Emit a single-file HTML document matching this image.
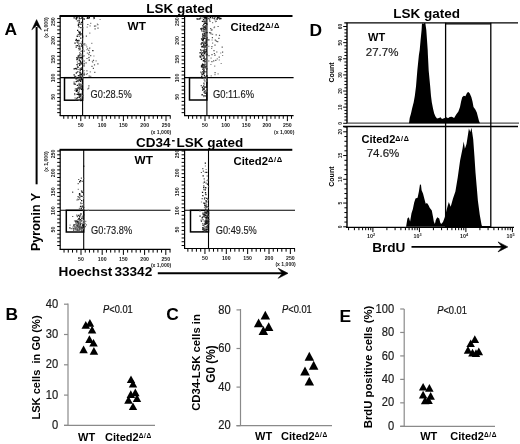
<!DOCTYPE html>
<html><head><meta charset="utf-8"><style>
html,body{margin:0;padding:0;background:#fff;width:520px;height:444px;overflow:hidden}
svg{display:block;font-family:"Liberation Sans", sans-serif;filter:grayscale(1)}
</style></head><body>
<svg width="520" height="444" viewBox="0 0 520 444">
<rect width="520" height="444" fill="#fff"/>
<text x="4.6" y="35.3" font-size="17.4" font-weight="bold" text-anchor="start" fill="#000">A</text>
<text x="5.4" y="319.7" font-size="17.4" font-weight="bold" text-anchor="start" fill="#000">B</text>
<text x="166.2" y="320.4" font-size="17.4" font-weight="bold" text-anchor="start" fill="#000">C</text>
<text x="309.6" y="36" font-size="17.4" font-weight="bold" text-anchor="start" fill="#000">D</text>
<text x="339.6" y="321.7" font-size="17.4" font-weight="bold" text-anchor="start" fill="#000">E</text>
<line x1="36.6" y1="184.3" x2="36.6" y2="27" stroke="#000" stroke-width="2"/>
<path d="M36.6 19.6 L41.4 29.8 L36.6 25.6 L31.8 29.8 Z" fill="#000" stroke="#000" stroke-width="0.5" stroke-linejoin="round"/>
<text x="40.3" y="251" font-size="12.5" font-weight="bold" text-anchor="start" fill="#000" transform="rotate(-90 40.3 251)">Pyronin Y</text>
<text x="58.6" y="275.8" font-size="13.6" font-weight="bold" text-anchor="start" fill="#000">Hoechst</text>
<text x="114.4" y="275.8" font-size="13.6" font-weight="bold" text-anchor="start" fill="#000">33342</text>
<line x1="157.8" y1="273.3" x2="284" y2="273.3" stroke="#000" stroke-width="1.9"/>
<path d="M288 273.3 L278.2 268.3 L282.4 273.3 L278.2 278.3 Z" fill="#000" stroke="#000" stroke-width="0.6" stroke-linejoin="round"/>
<text x="146.2" y="12.7" font-size="13.5" font-weight="bold" text-anchor="start" fill="#000">LSK gated</text>
<rect x="59.5" y="15" width="233" height="2" fill="#000"/>
<text x="136" y="147.1" font-size="13.5" font-weight="bold" text-anchor="start" fill="#000">CD34</text>
<rect x="172" y="140.1" width="2.7" height="1.4" fill="#000"/>
<text x="176.4" y="147" font-size="13.5" font-weight="bold" text-anchor="start" fill="#000">LSK gated</text>
<rect x="59.5" y="148.8" width="232.8" height="2" fill="#000"/>
<line x1="60.2" y1="16" x2="60.2" y2="116.1" stroke="#000" stroke-width="1.2"/>
<line x1="59.7" y1="115.6" x2="170.5" y2="115.6" stroke="#000" stroke-width="1.2"/>
<line x1="57.2" y1="112.64" x2="60.2" y2="112.64" stroke="#000" stroke-width="1"/>
<line x1="57.2" y1="108.88000000000001" x2="60.2" y2="108.88000000000001" stroke="#000" stroke-width="1"/>
<line x1="57.2" y1="105.12" x2="60.2" y2="105.12" stroke="#000" stroke-width="1"/>
<line x1="57.2" y1="101.36000000000001" x2="60.2" y2="101.36000000000001" stroke="#000" stroke-width="1"/>
<line x1="57.2" y1="97.60000000000001" x2="60.2" y2="97.60000000000001" stroke="#000" stroke-width="1"/>
<line x1="57.2" y1="93.84" x2="60.2" y2="93.84" stroke="#000" stroke-width="1"/>
<line x1="57.2" y1="90.08000000000001" x2="60.2" y2="90.08000000000001" stroke="#000" stroke-width="1"/>
<line x1="57.2" y1="86.32000000000001" x2="60.2" y2="86.32000000000001" stroke="#000" stroke-width="1"/>
<line x1="57.2" y1="82.56" x2="60.2" y2="82.56" stroke="#000" stroke-width="1"/>
<line x1="57.2" y1="78.80000000000001" x2="60.2" y2="78.80000000000001" stroke="#000" stroke-width="1"/>
<line x1="57.2" y1="75.04" x2="60.2" y2="75.04" stroke="#000" stroke-width="1"/>
<line x1="57.2" y1="71.28" x2="60.2" y2="71.28" stroke="#000" stroke-width="1"/>
<line x1="57.2" y1="67.52000000000001" x2="60.2" y2="67.52000000000001" stroke="#000" stroke-width="1"/>
<line x1="57.2" y1="63.760000000000005" x2="60.2" y2="63.760000000000005" stroke="#000" stroke-width="1"/>
<line x1="57.2" y1="60.00000000000001" x2="60.2" y2="60.00000000000001" stroke="#000" stroke-width="1"/>
<line x1="57.2" y1="56.24000000000001" x2="60.2" y2="56.24000000000001" stroke="#000" stroke-width="1"/>
<line x1="57.2" y1="52.480000000000004" x2="60.2" y2="52.480000000000004" stroke="#000" stroke-width="1"/>
<line x1="57.2" y1="48.72" x2="60.2" y2="48.72" stroke="#000" stroke-width="1"/>
<line x1="57.2" y1="44.96000000000001" x2="60.2" y2="44.96000000000001" stroke="#000" stroke-width="1"/>
<line x1="57.2" y1="41.2" x2="60.2" y2="41.2" stroke="#000" stroke-width="1"/>
<line x1="57.2" y1="37.44000000000001" x2="60.2" y2="37.44000000000001" stroke="#000" stroke-width="1"/>
<line x1="57.2" y1="33.68000000000001" x2="60.2" y2="33.68000000000001" stroke="#000" stroke-width="1"/>
<line x1="57.2" y1="29.92" x2="60.2" y2="29.92" stroke="#000" stroke-width="1"/>
<line x1="57.2" y1="26.16000000000001" x2="60.2" y2="26.16000000000001" stroke="#000" stroke-width="1"/>
<line x1="57.2" y1="22.400000000000006" x2="60.2" y2="22.400000000000006" stroke="#000" stroke-width="1"/>
<line x1="57.2" y1="18.64" x2="60.2" y2="18.64" stroke="#000" stroke-width="1"/>
<text x="53.0" y="96.80000000000001" font-size="5.2" font-weight="bold" text-anchor="middle" fill="#1a1a1a" transform="rotate(-90 53.0 96.80000000000001)" dominant-baseline="central">50</text>
<text x="53.0" y="78.00000000000001" font-size="5.2" font-weight="bold" text-anchor="middle" fill="#1a1a1a" transform="rotate(-90 53.0 78.00000000000001)" dominant-baseline="central">100</text>
<text x="53.0" y="59.20000000000001" font-size="5.2" font-weight="bold" text-anchor="middle" fill="#1a1a1a" transform="rotate(-90 53.0 59.20000000000001)" dominant-baseline="central">150</text>
<text x="53.0" y="40.400000000000006" font-size="5.2" font-weight="bold" text-anchor="middle" fill="#1a1a1a" transform="rotate(-90 53.0 40.400000000000006)" dominant-baseline="central">200</text>
<text x="53.0" y="21.600000000000005" font-size="5.2" font-weight="bold" text-anchor="middle" fill="#1a1a1a" transform="rotate(-90 53.0 21.600000000000005)" dominant-baseline="central">250</text>
<text x="46.0" y="27.5" font-size="5.1" font-weight="bold" text-anchor="middle" fill="#1a1a1a" transform="rotate(-90 46.0 27.5)" dominant-baseline="central">(x 1,000)</text>
<line x1="63.76" y1="115.6" x2="63.76" y2="118.8" stroke="#000" stroke-width="1"/>
<line x1="68.02" y1="115.6" x2="68.02" y2="118.8" stroke="#000" stroke-width="1"/>
<line x1="72.28" y1="115.6" x2="72.28" y2="118.8" stroke="#000" stroke-width="1"/>
<line x1="76.53999999999999" y1="115.6" x2="76.53999999999999" y2="118.8" stroke="#000" stroke-width="1"/>
<line x1="80.8" y1="115.6" x2="80.8" y2="121.1" stroke="#000" stroke-width="1"/>
<line x1="85.06" y1="115.6" x2="85.06" y2="118.8" stroke="#000" stroke-width="1"/>
<line x1="89.32" y1="115.6" x2="89.32" y2="118.8" stroke="#000" stroke-width="1"/>
<line x1="93.58" y1="115.6" x2="93.58" y2="118.8" stroke="#000" stroke-width="1"/>
<line x1="97.84" y1="115.6" x2="97.84" y2="118.8" stroke="#000" stroke-width="1"/>
<line x1="102.1" y1="115.6" x2="102.1" y2="121.1" stroke="#000" stroke-width="1"/>
<line x1="106.36" y1="115.6" x2="106.36" y2="118.8" stroke="#000" stroke-width="1"/>
<line x1="110.62" y1="115.6" x2="110.62" y2="118.8" stroke="#000" stroke-width="1"/>
<line x1="114.88" y1="115.6" x2="114.88" y2="118.8" stroke="#000" stroke-width="1"/>
<line x1="119.14" y1="115.6" x2="119.14" y2="118.8" stroke="#000" stroke-width="1"/>
<line x1="123.4" y1="115.6" x2="123.4" y2="121.1" stroke="#000" stroke-width="1"/>
<line x1="127.66" y1="115.6" x2="127.66" y2="118.8" stroke="#000" stroke-width="1"/>
<line x1="131.92000000000002" y1="115.6" x2="131.92000000000002" y2="118.8" stroke="#000" stroke-width="1"/>
<line x1="136.18" y1="115.6" x2="136.18" y2="118.8" stroke="#000" stroke-width="1"/>
<line x1="140.44" y1="115.6" x2="140.44" y2="118.8" stroke="#000" stroke-width="1"/>
<line x1="144.7" y1="115.6" x2="144.7" y2="121.1" stroke="#000" stroke-width="1"/>
<line x1="148.95999999999998" y1="115.6" x2="148.95999999999998" y2="118.8" stroke="#000" stroke-width="1"/>
<line x1="153.22" y1="115.6" x2="153.22" y2="118.8" stroke="#000" stroke-width="1"/>
<line x1="157.48000000000002" y1="115.6" x2="157.48000000000002" y2="118.8" stroke="#000" stroke-width="1"/>
<line x1="161.74" y1="115.6" x2="161.74" y2="118.8" stroke="#000" stroke-width="1"/>
<line x1="166.0" y1="115.6" x2="166.0" y2="121.1" stroke="#000" stroke-width="1"/>
<line x1="170.26" y1="115.6" x2="170.26" y2="118.8" stroke="#000" stroke-width="1"/>
<text x="80.8" y="127.1" font-size="5.2" font-weight="bold" text-anchor="middle" fill="#1a1a1a">50</text>
<text x="102.1" y="127.1" font-size="5.2" font-weight="bold" text-anchor="middle" fill="#1a1a1a">100</text>
<text x="123.4" y="127.1" font-size="5.2" font-weight="bold" text-anchor="middle" fill="#1a1a1a">150</text>
<text x="144.7" y="127.1" font-size="5.2" font-weight="bold" text-anchor="middle" fill="#1a1a1a">200</text>
<text x="166.0" y="127.1" font-size="5.2" font-weight="bold" text-anchor="middle" fill="#1a1a1a">250</text>
<text x="171.3" y="133.5" font-size="5.1" font-weight="bold" text-anchor="end" fill="#1a1a1a">(x 1,000)</text>
<line x1="60.2" y1="77.6" x2="170.5" y2="77.6" stroke="#000" stroke-width="1.1"/>
<line x1="82.6" y1="16" x2="82.6" y2="115.6" stroke="#000" stroke-width="1.1"/>
<rect x="64.5" y="77.7" width="18.099999999999994" height="22.5" fill="none" stroke="#000" stroke-width="1.5"/>
<path d="M78.8 94.5h1.3v1.3h-1.3zM81.0 43.4h1.3v1.3h-1.3zM75.4 67.8h1.3v1.3h-1.3zM77.9 87.3h1.3v1.3h-1.3zM79.6 79.5h1.3v1.3h-1.3zM74.8 67.9h1.3v1.3h-1.3zM79.0 64.6h1.3v1.3h-1.3zM79.6 79.1h1.3v1.3h-1.3zM79.0 57.3h1.3v1.3h-1.3zM78.8 59.6h1.3v1.3h-1.3zM78.5 62.9h1.3v1.3h-1.3zM79.2 74.4h1.3v1.3h-1.3zM77.0 29.8h1.3v1.3h-1.3zM78.0 92.3h1.3v1.3h-1.3zM77.6 93.7h1.3v1.3h-1.3zM81.4 93.4h1.3v1.3h-1.3zM76.3 59.0h1.3v1.3h-1.3zM82.0 36.5h1.3v1.3h-1.3zM81.7 45.4h1.3v1.3h-1.3zM79.0 76.7h1.3v1.3h-1.3zM77.2 66.6h1.3v1.3h-1.3zM79.0 32.2h1.3v1.3h-1.3zM80.3 23.5h1.3v1.3h-1.3zM80.7 85.4h1.3v1.3h-1.3zM79.5 34.0h1.3v1.3h-1.3zM78.4 19.7h1.3v1.3h-1.3zM79.7 69.2h1.3v1.3h-1.3zM75.5 76.8h1.3v1.3h-1.3zM82.0 89.2h1.3v1.3h-1.3zM81.5 77.7h1.3v1.3h-1.3zM82.0 35.6h1.3v1.3h-1.3zM81.9 95.3h1.3v1.3h-1.3zM74.4 42.5h1.3v1.3h-1.3zM79.1 54.7h1.3v1.3h-1.3zM79.7 76.2h1.3v1.3h-1.3zM79.8 93.6h1.3v1.3h-1.3zM77.4 57.1h1.3v1.3h-1.3zM75.2 99.5h1.3v1.3h-1.3zM76.8 58.1h1.3v1.3h-1.3zM77.2 40.2h1.3v1.3h-1.3zM73.5 83.3h1.3v1.3h-1.3zM79.8 61.6h1.3v1.3h-1.3zM73.5 74.3h1.3v1.3h-1.3zM80.1 99.1h1.3v1.3h-1.3zM82.0 94.8h1.3v1.3h-1.3zM75.4 78.1h1.3v1.3h-1.3zM78.7 59.9h1.3v1.3h-1.3zM77.7 55.2h1.3v1.3h-1.3zM79.9 72.5h1.3v1.3h-1.3zM73.5 68.2h1.3v1.3h-1.3zM79.9 95.0h1.3v1.3h-1.3zM77.2 42.2h1.3v1.3h-1.3zM78.5 94.5h1.3v1.3h-1.3zM78.3 84.3h1.3v1.3h-1.3zM78.8 21.6h1.3v1.3h-1.3zM82.0 55.6h1.3v1.3h-1.3zM78.5 79.3h1.3v1.3h-1.3zM80.7 88.7h1.3v1.3h-1.3zM80.9 21.8h1.3v1.3h-1.3zM81.4 56.7h1.3v1.3h-1.3zM77.6 56.5h1.3v1.3h-1.3zM76.0 90.1h1.3v1.3h-1.3zM76.5 89.0h1.3v1.3h-1.3zM77.2 80.2h1.3v1.3h-1.3zM75.3 39.7h1.3v1.3h-1.3zM81.4 58.5h1.3v1.3h-1.3zM81.6 41.3h1.3v1.3h-1.3zM76.8 40.1h1.3v1.3h-1.3zM76.6 89.7h1.3v1.3h-1.3zM79.3 71.6h1.3v1.3h-1.3zM76.7 84.7h1.3v1.3h-1.3zM79.5 72.4h1.3v1.3h-1.3zM81.9 27.2h1.3v1.3h-1.3zM80.1 37.4h1.3v1.3h-1.3zM77.8 75.0h1.3v1.3h-1.3zM76.1 78.1h1.3v1.3h-1.3zM81.0 78.9h1.3v1.3h-1.3zM79.2 87.2h1.3v1.3h-1.3zM78.3 26.3h1.3v1.3h-1.3zM76.9 44.9h1.3v1.3h-1.3zM79.9 61.3h1.3v1.3h-1.3zM81.1 73.6h1.3v1.3h-1.3zM78.6 94.0h1.3v1.3h-1.3zM77.7 79.7h1.3v1.3h-1.3zM82.0 43.4h1.3v1.3h-1.3zM75.6 88.2h1.3v1.3h-1.3zM81.9 97.1h1.3v1.3h-1.3zM81.1 45.3h1.3v1.3h-1.3zM80.8 68.8h1.3v1.3h-1.3zM81.3 67.2h1.3v1.3h-1.3zM79.5 31.5h1.3v1.3h-1.3zM76.8 90.1h1.3v1.3h-1.3zM76.1 77.2h1.3v1.3h-1.3zM81.8 29.3h1.3v1.3h-1.3zM78.3 47.8h1.3v1.3h-1.3zM75.8 38.7h1.3v1.3h-1.3zM79.6 95.9h1.3v1.3h-1.3zM76.8 97.1h1.3v1.3h-1.3zM80.2 99.9h1.3v1.3h-1.3zM80.2 63.3h1.3v1.3h-1.3zM82.0 46.4h1.3v1.3h-1.3zM79.8 74.1h1.3v1.3h-1.3zM81.8 29.2h1.3v1.3h-1.3zM80.5 76.5h1.3v1.3h-1.3zM79.1 32.7h1.3v1.3h-1.3zM79.9 80.3h1.3v1.3h-1.3zM76.5 93.7h1.3v1.3h-1.3zM79.9 60.4h1.3v1.3h-1.3zM76.4 64.0h1.3v1.3h-1.3zM81.4 74.5h1.3v1.3h-1.3zM75.6 81.0h1.3v1.3h-1.3zM82.0 65.0h1.3v1.3h-1.3zM76.0 80.7h1.3v1.3h-1.3zM80.0 80.6h1.3v1.3h-1.3zM81.2 67.9h1.3v1.3h-1.3zM82.0 48.4h1.3v1.3h-1.3zM80.5 33.2h1.3v1.3h-1.3zM74.4 83.5h1.3v1.3h-1.3zM80.2 57.1h1.3v1.3h-1.3zM80.8 77.7h1.3v1.3h-1.3zM76.2 68.5h1.3v1.3h-1.3zM80.3 87.5h1.3v1.3h-1.3zM75.9 77.5h1.3v1.3h-1.3zM79.3 84.4h1.3v1.3h-1.3zM75.7 90.8h1.3v1.3h-1.3zM77.7 24.6h1.3v1.3h-1.3zM77.9 23.6h1.3v1.3h-1.3zM80.2 27.0h1.3v1.3h-1.3zM78.4 93.6h1.3v1.3h-1.3zM79.0 54.5h1.3v1.3h-1.3zM78.2 86.4h1.3v1.3h-1.3zM78.1 31.2h1.3v1.3h-1.3zM77.3 87.6h1.3v1.3h-1.3zM79.6 69.5h1.3v1.3h-1.3zM79.0 45.4h1.3v1.3h-1.3zM76.6 35.6h1.3v1.3h-1.3zM78.6 96.6h1.3v1.3h-1.3zM79.3 95.2h1.3v1.3h-1.3zM82.0 70.9h1.3v1.3h-1.3zM78.2 39.8h1.3v1.3h-1.3zM78.4 80.0h1.3v1.3h-1.3zM82.0 69.8h1.3v1.3h-1.3zM74.4 75.7h1.3v1.3h-1.3zM77.3 99.7h1.3v1.3h-1.3zM80.8 62.5h1.3v1.3h-1.3zM83.5 74.2h1.3v1.3h-1.3zM92.2 49.9h1.3v1.3h-1.3zM88.6 59.5h1.3v1.3h-1.3zM79.3 17.9h1.3v1.3h-1.3zM86.9 16.9h1.3v1.3h-1.3zM81.8 17.3h1.3v1.3h-1.3zM75.6 18.3h1.3v1.3h-1.3zM93.6 17.8h1.3v1.3h-1.3zM83.6 18.4h1.3v1.3h-1.3zM86.6 17.7h1.3v1.3h-1.3zM88.2 17.6h1.3v1.3h-1.3zM75.5 17.6h1.3v1.3h-1.3zM78.6 17.3h1.3v1.3h-1.3zM76.4 17.1h1.3v1.3h-1.3zM76.0 17.3h1.3v1.3h-1.3zM83.3 18.2h1.3v1.3h-1.3zM73.5 17.2h1.3v1.3h-1.3zM81.0 17.5h1.3v1.3h-1.3zM75.7 18.5h1.3v1.3h-1.3zM88.7 16.8h1.3v1.3h-1.3zM76.3 16.9h1.3v1.3h-1.3zM93.4 16.9h1.3v1.3h-1.3z" fill="#111"/>
<path d="M79.1 98.8h1.2v1.2h-1.2zM77.7 87.6h1.2v1.2h-1.2zM78.4 55.2h1.2v1.2h-1.2zM80.3 95.2h1.2v1.2h-1.2zM74.8 83.9h1.2v1.2h-1.2zM80.0 83.6h1.2v1.2h-1.2zM80.2 98.1h1.2v1.2h-1.2zM80.5 50.4h1.2v1.2h-1.2zM80.1 53.2h1.2v1.2h-1.2zM80.4 97.6h1.2v1.2h-1.2zM80.7 67.7h1.2v1.2h-1.2zM78.2 87.0h1.2v1.2h-1.2zM74.4 89.9h1.2v1.2h-1.2zM77.5 34.0h1.2v1.2h-1.2zM80.3 34.4h1.2v1.2h-1.2zM81.0 45.9h1.2v1.2h-1.2zM78.6 49.2h1.2v1.2h-1.2zM76.4 41.5h1.2v1.2h-1.2zM79.6 67.8h1.2v1.2h-1.2zM78.7 59.3h1.2v1.2h-1.2zM76.4 57.5h1.2v1.2h-1.2zM76.7 71.6h1.2v1.2h-1.2zM77.5 92.1h1.2v1.2h-1.2zM80.0 98.4h1.2v1.2h-1.2zM79.5 86.3h1.2v1.2h-1.2zM82.0 38.2h1.2v1.2h-1.2zM82.0 76.6h1.2v1.2h-1.2zM79.5 47.8h1.2v1.2h-1.2zM80.4 61.7h1.2v1.2h-1.2zM80.5 50.8h1.2v1.2h-1.2zM81.4 84.0h1.2v1.2h-1.2zM75.6 46.6h1.2v1.2h-1.2zM82.0 77.1h1.2v1.2h-1.2zM78.2 45.5h1.2v1.2h-1.2zM81.5 54.2h1.2v1.2h-1.2zM78.1 79.9h1.2v1.2h-1.2zM82.0 77.5h1.2v1.2h-1.2zM75.3 99.1h1.2v1.2h-1.2zM79.8 79.2h1.2v1.2h-1.2zM78.3 40.3h1.2v1.2h-1.2zM76.0 56.9h1.2v1.2h-1.2zM75.7 72.8h1.2v1.2h-1.2zM79.4 74.5h1.2v1.2h-1.2zM76.9 57.0h1.2v1.2h-1.2zM75.7 45.0h1.2v1.2h-1.2zM77.5 96.8h1.2v1.2h-1.2zM80.3 63.5h1.2v1.2h-1.2zM78.6 90.5h1.2v1.2h-1.2zM74.1 93.1h1.2v1.2h-1.2zM74.7 88.4h1.2v1.2h-1.2zM73.5 81.6h1.2v1.2h-1.2zM80.4 87.0h1.2v1.2h-1.2zM75.6 46.7h1.2v1.2h-1.2zM75.9 97.9h1.2v1.2h-1.2zM78.8 54.5h1.2v1.2h-1.2zM78.5 82.8h1.2v1.2h-1.2zM75.3 77.2h1.2v1.2h-1.2zM78.3 56.5h1.2v1.2h-1.2zM76.8 61.4h1.2v1.2h-1.2zM77.6 80.5h1.2v1.2h-1.2zM79.2 46.4h1.2v1.2h-1.2zM79.1 52.2h1.2v1.2h-1.2zM79.0 84.1h1.2v1.2h-1.2zM74.2 94.1h1.2v1.2h-1.2zM78.1 43.6h1.2v1.2h-1.2zM78.7 88.8h1.2v1.2h-1.2zM77.5 62.9h1.2v1.2h-1.2zM78.4 21.5h1.2v1.2h-1.2zM79.1 23.5h1.2v1.2h-1.2zM82.0 95.1h1.2v1.2h-1.2zM78.4 99.9h1.2v1.2h-1.2zM78.9 87.9h1.2v1.2h-1.2zM76.8 20.2h1.2v1.2h-1.2zM82.0 23.3h1.2v1.2h-1.2zM75.7 72.1h1.2v1.2h-1.2zM76.9 65.5h1.2v1.2h-1.2zM78.7 99.7h1.2v1.2h-1.2zM77.5 66.8h1.2v1.2h-1.2zM82.0 59.2h1.2v1.2h-1.2zM74.5 97.4h1.2v1.2h-1.2zM78.9 95.2h1.2v1.2h-1.2zM77.3 71.0h1.2v1.2h-1.2zM82.0 74.3h1.2v1.2h-1.2zM80.7 85.8h1.2v1.2h-1.2zM79.6 42.7h1.2v1.2h-1.2zM80.4 55.4h1.2v1.2h-1.2zM78.7 33.5h1.2v1.2h-1.2zM82.0 43.8h1.2v1.2h-1.2zM79.4 48.7h1.2v1.2h-1.2zM78.8 75.1h1.2v1.2h-1.2zM82.0 48.7h1.2v1.2h-1.2zM77.7 92.9h1.2v1.2h-1.2zM82.0 27.3h1.2v1.2h-1.2zM78.3 68.9h1.2v1.2h-1.2zM78.6 35.8h1.2v1.2h-1.2zM85.8 35.6h1.2v1.2h-1.2zM83.5 55.3h1.2v1.2h-1.2zM83.5 73.2h1.2v1.2h-1.2zM83.5 65.3h1.2v1.2h-1.2zM97.3 63.2h1.2v1.2h-1.2zM91.4 65.8h1.2v1.2h-1.2zM83.5 50.5h1.2v1.2h-1.2zM88.6 75.6h1.2v1.2h-1.2zM88.2 57.0h1.2v1.2h-1.2zM88.9 51.8h1.2v1.2h-1.2zM86.4 57.9h1.2v1.2h-1.2zM83.5 73.6h1.2v1.2h-1.2zM88.2 49.7h1.2v1.2h-1.2zM92.8 67.7h1.2v1.2h-1.2zM83.6 62.9h1.2v1.2h-1.2zM83.5 62.9h1.2v1.2h-1.2zM94.2 71.7h1.2v1.2h-1.2zM85.5 62.3h1.2v1.2h-1.2zM90.1 55.0h1.2v1.2h-1.2zM83.5 44.3h1.2v1.2h-1.2zM93.9 64.2h1.2v1.2h-1.2zM83.5 72.6h1.2v1.2h-1.2zM89.1 47.6h1.2v1.2h-1.2zM88.2 53.6h1.2v1.2h-1.2zM88.2 56.9h1.2v1.2h-1.2zM92.9 59.8h1.2v1.2h-1.2zM95.1 25.4h1.2v1.2h-1.2zM87.2 23.9h1.2v1.2h-1.2zM94.5 28.2h1.2v1.2h-1.2zM97.4 27.5h1.2v1.2h-1.2zM97.2 24.1h1.2v1.2h-1.2zM93.9 25.6h1.2v1.2h-1.2zM87.7 17.4h1.2v1.2h-1.2zM81.3 17.6h1.2v1.2h-1.2zM93.6 17.5h1.2v1.2h-1.2zM87.2 88.4h1.2v1.2h-1.2zM88.3 85.3h1.2v1.2h-1.2zM88.1 87.6h1.2v1.2h-1.2z" fill="#555"/>
<path d="M84.2 43.1h1.2v1.2h-1.2zM85.4 44.5h1.2v1.2h-1.2zM83.5 64.0h1.2v1.2h-1.2zM83.5 60.0h1.2v1.2h-1.2zM86.8 73.0h1.2v1.2h-1.2zM86.2 46.3h1.2v1.2h-1.2zM88.6 56.8h1.2v1.2h-1.2zM91.2 42.8h1.2v1.2h-1.2zM83.5 65.4h1.2v1.2h-1.2zM85.8 73.7h1.2v1.2h-1.2zM83.5 70.1h1.2v1.2h-1.2zM86.8 52.5h1.2v1.2h-1.2zM86.3 70.3h1.2v1.2h-1.2zM89.2 32.6h1.2v1.2h-1.2zM93.3 55.4h1.2v1.2h-1.2zM87.0 48.0h1.2v1.2h-1.2zM95.5 60.2h1.2v1.2h-1.2zM91.8 60.7h1.2v1.2h-1.2zM86.4 49.1h1.2v1.2h-1.2zM83.5 43.3h1.2v1.2h-1.2zM86.3 69.9h1.2v1.2h-1.2zM92.1 61.6h1.2v1.2h-1.2zM90.1 75.8h1.2v1.2h-1.2zM83.5 61.0h1.2v1.2h-1.2zM88.3 54.1h1.2v1.2h-1.2zM89.7 71.2h1.2v1.2h-1.2zM99.5 18.9h1.2v1.2h-1.2zM90.1 22.8h1.2v1.2h-1.2zM96.8 23.4h1.2v1.2h-1.2zM89.5 25.3h1.2v1.2h-1.2zM86.6 26.5h1.2v1.2h-1.2zM93.0 18.0h1.2v1.2h-1.2z" fill="#888"/>
<text x="127.6" y="30.3" font-size="11.8" font-weight="bold" text-anchor="start" fill="#000">WT</text>
<text x="90.6" y="98" font-size="10.6" text-anchor="start" fill="#1a1a1a" stroke="#1a1a1a" stroke-width="0.15" textLength="41" lengthAdjust="spacingAndGlyphs">G0:28.5%</text>
<line x1="184.6" y1="16" x2="184.6" y2="116.1" stroke="#000" stroke-width="1.2"/>
<line x1="184.1" y1="115.6" x2="293.6" y2="115.6" stroke="#000" stroke-width="1.2"/>
<line x1="181.6" y1="112.64" x2="184.6" y2="112.64" stroke="#000" stroke-width="1"/>
<line x1="181.6" y1="108.88000000000001" x2="184.6" y2="108.88000000000001" stroke="#000" stroke-width="1"/>
<line x1="181.6" y1="105.12" x2="184.6" y2="105.12" stroke="#000" stroke-width="1"/>
<line x1="181.6" y1="101.36000000000001" x2="184.6" y2="101.36000000000001" stroke="#000" stroke-width="1"/>
<line x1="181.6" y1="97.60000000000001" x2="184.6" y2="97.60000000000001" stroke="#000" stroke-width="1"/>
<line x1="181.6" y1="93.84" x2="184.6" y2="93.84" stroke="#000" stroke-width="1"/>
<line x1="181.6" y1="90.08000000000001" x2="184.6" y2="90.08000000000001" stroke="#000" stroke-width="1"/>
<line x1="181.6" y1="86.32000000000001" x2="184.6" y2="86.32000000000001" stroke="#000" stroke-width="1"/>
<line x1="181.6" y1="82.56" x2="184.6" y2="82.56" stroke="#000" stroke-width="1"/>
<line x1="181.6" y1="78.80000000000001" x2="184.6" y2="78.80000000000001" stroke="#000" stroke-width="1"/>
<line x1="181.6" y1="75.04" x2="184.6" y2="75.04" stroke="#000" stroke-width="1"/>
<line x1="181.6" y1="71.28" x2="184.6" y2="71.28" stroke="#000" stroke-width="1"/>
<line x1="181.6" y1="67.52000000000001" x2="184.6" y2="67.52000000000001" stroke="#000" stroke-width="1"/>
<line x1="181.6" y1="63.760000000000005" x2="184.6" y2="63.760000000000005" stroke="#000" stroke-width="1"/>
<line x1="181.6" y1="60.00000000000001" x2="184.6" y2="60.00000000000001" stroke="#000" stroke-width="1"/>
<line x1="181.6" y1="56.24000000000001" x2="184.6" y2="56.24000000000001" stroke="#000" stroke-width="1"/>
<line x1="181.6" y1="52.480000000000004" x2="184.6" y2="52.480000000000004" stroke="#000" stroke-width="1"/>
<line x1="181.6" y1="48.72" x2="184.6" y2="48.72" stroke="#000" stroke-width="1"/>
<line x1="181.6" y1="44.96000000000001" x2="184.6" y2="44.96000000000001" stroke="#000" stroke-width="1"/>
<line x1="181.6" y1="41.2" x2="184.6" y2="41.2" stroke="#000" stroke-width="1"/>
<line x1="181.6" y1="37.44000000000001" x2="184.6" y2="37.44000000000001" stroke="#000" stroke-width="1"/>
<line x1="181.6" y1="33.68000000000001" x2="184.6" y2="33.68000000000001" stroke="#000" stroke-width="1"/>
<line x1="181.6" y1="29.92" x2="184.6" y2="29.92" stroke="#000" stroke-width="1"/>
<line x1="181.6" y1="26.16000000000001" x2="184.6" y2="26.16000000000001" stroke="#000" stroke-width="1"/>
<line x1="181.6" y1="22.400000000000006" x2="184.6" y2="22.400000000000006" stroke="#000" stroke-width="1"/>
<line x1="181.6" y1="18.64" x2="184.6" y2="18.64" stroke="#000" stroke-width="1"/>
<text x="177.4" y="96.80000000000001" font-size="5.2" font-weight="bold" text-anchor="middle" fill="#1a1a1a" transform="rotate(-90 177.4 96.80000000000001)" dominant-baseline="central">50</text>
<text x="177.4" y="78.00000000000001" font-size="5.2" font-weight="bold" text-anchor="middle" fill="#1a1a1a" transform="rotate(-90 177.4 78.00000000000001)" dominant-baseline="central">100</text>
<text x="177.4" y="59.20000000000001" font-size="5.2" font-weight="bold" text-anchor="middle" fill="#1a1a1a" transform="rotate(-90 177.4 59.20000000000001)" dominant-baseline="central">150</text>
<text x="177.4" y="40.400000000000006" font-size="5.2" font-weight="bold" text-anchor="middle" fill="#1a1a1a" transform="rotate(-90 177.4 40.400000000000006)" dominant-baseline="central">200</text>
<text x="177.4" y="21.600000000000005" font-size="5.2" font-weight="bold" text-anchor="middle" fill="#1a1a1a" transform="rotate(-90 177.4 21.600000000000005)" dominant-baseline="central">250</text>
<line x1="188.52" y1="115.6" x2="188.52" y2="118.8" stroke="#000" stroke-width="1"/>
<line x1="192.64000000000001" y1="115.6" x2="192.64000000000001" y2="118.8" stroke="#000" stroke-width="1"/>
<line x1="196.76" y1="115.6" x2="196.76" y2="118.8" stroke="#000" stroke-width="1"/>
<line x1="200.88" y1="115.6" x2="200.88" y2="118.8" stroke="#000" stroke-width="1"/>
<line x1="205.0" y1="115.6" x2="205.0" y2="121.1" stroke="#000" stroke-width="1"/>
<line x1="209.12" y1="115.6" x2="209.12" y2="118.8" stroke="#000" stroke-width="1"/>
<line x1="213.24" y1="115.6" x2="213.24" y2="118.8" stroke="#000" stroke-width="1"/>
<line x1="217.36" y1="115.6" x2="217.36" y2="118.8" stroke="#000" stroke-width="1"/>
<line x1="221.48000000000002" y1="115.6" x2="221.48000000000002" y2="118.8" stroke="#000" stroke-width="1"/>
<line x1="225.6" y1="115.6" x2="225.6" y2="121.1" stroke="#000" stroke-width="1"/>
<line x1="229.72" y1="115.6" x2="229.72" y2="118.8" stroke="#000" stroke-width="1"/>
<line x1="233.84" y1="115.6" x2="233.84" y2="118.8" stroke="#000" stroke-width="1"/>
<line x1="237.96" y1="115.6" x2="237.96" y2="118.8" stroke="#000" stroke-width="1"/>
<line x1="242.08" y1="115.6" x2="242.08" y2="118.8" stroke="#000" stroke-width="1"/>
<line x1="246.2" y1="115.6" x2="246.2" y2="121.1" stroke="#000" stroke-width="1"/>
<line x1="250.32" y1="115.6" x2="250.32" y2="118.8" stroke="#000" stroke-width="1"/>
<line x1="254.44" y1="115.6" x2="254.44" y2="118.8" stroke="#000" stroke-width="1"/>
<line x1="258.56" y1="115.6" x2="258.56" y2="118.8" stroke="#000" stroke-width="1"/>
<line x1="262.68" y1="115.6" x2="262.68" y2="118.8" stroke="#000" stroke-width="1"/>
<line x1="266.8" y1="115.6" x2="266.8" y2="121.1" stroke="#000" stroke-width="1"/>
<line x1="270.92" y1="115.6" x2="270.92" y2="118.8" stroke="#000" stroke-width="1"/>
<line x1="275.04" y1="115.6" x2="275.04" y2="118.8" stroke="#000" stroke-width="1"/>
<line x1="279.15999999999997" y1="115.6" x2="279.15999999999997" y2="118.8" stroke="#000" stroke-width="1"/>
<line x1="283.28" y1="115.6" x2="283.28" y2="118.8" stroke="#000" stroke-width="1"/>
<line x1="287.4" y1="115.6" x2="287.4" y2="121.1" stroke="#000" stroke-width="1"/>
<line x1="291.52" y1="115.6" x2="291.52" y2="118.8" stroke="#000" stroke-width="1"/>
<text x="205.0" y="127.1" font-size="5.2" font-weight="bold" text-anchor="middle" fill="#1a1a1a">50</text>
<text x="225.6" y="127.1" font-size="5.2" font-weight="bold" text-anchor="middle" fill="#1a1a1a">100</text>
<text x="246.2" y="127.1" font-size="5.2" font-weight="bold" text-anchor="middle" fill="#1a1a1a">150</text>
<text x="266.8" y="127.1" font-size="5.2" font-weight="bold" text-anchor="middle" fill="#1a1a1a">200</text>
<text x="287.4" y="127.1" font-size="5.2" font-weight="bold" text-anchor="middle" fill="#1a1a1a">250</text>
<text x="294.40000000000003" y="133.5" font-size="5.1" font-weight="bold" text-anchor="end" fill="#1a1a1a">(x 1,000)</text>
<line x1="184.6" y1="77.6" x2="293.6" y2="77.6" stroke="#000" stroke-width="1.1"/>
<line x1="206.9" y1="16" x2="206.9" y2="115.6" stroke="#000" stroke-width="1.1"/>
<rect x="189.5" y="77.7" width="17.400000000000006" height="22.299999999999997" fill="none" stroke="#000" stroke-width="1.5"/>
<path d="M201.3 27.8h1.3v1.3h-1.3zM206.0 77.3h1.3v1.3h-1.3zM202.6 40.2h1.3v1.3h-1.3zM202.4 46.1h1.3v1.3h-1.3zM203.1 44.0h1.3v1.3h-1.3zM204.7 28.5h1.3v1.3h-1.3zM206.3 23.4h1.3v1.3h-1.3zM205.7 22.9h1.3v1.3h-1.3zM205.3 42.3h1.3v1.3h-1.3zM205.0 42.9h1.3v1.3h-1.3zM200.1 28.3h1.3v1.3h-1.3zM204.2 59.3h1.3v1.3h-1.3zM205.3 65.8h1.3v1.3h-1.3zM203.3 64.0h1.3v1.3h-1.3zM203.7 20.8h1.3v1.3h-1.3zM203.8 37.8h1.3v1.3h-1.3zM203.9 48.4h1.3v1.3h-1.3zM200.9 66.2h1.3v1.3h-1.3zM204.0 58.3h1.3v1.3h-1.3zM201.3 38.6h1.3v1.3h-1.3zM202.9 19.0h1.3v1.3h-1.3zM202.4 27.9h1.3v1.3h-1.3zM204.0 34.3h1.3v1.3h-1.3zM203.8 63.9h1.3v1.3h-1.3zM205.2 52.2h1.3v1.3h-1.3zM201.8 20.8h1.3v1.3h-1.3zM205.7 70.9h1.3v1.3h-1.3zM203.1 70.0h1.3v1.3h-1.3zM205.2 22.4h1.3v1.3h-1.3zM203.3 28.6h1.3v1.3h-1.3zM204.5 46.0h1.3v1.3h-1.3zM202.9 71.2h1.3v1.3h-1.3zM206.3 75.1h1.3v1.3h-1.3zM203.2 44.1h1.3v1.3h-1.3zM200.0 49.3h1.3v1.3h-1.3zM202.9 45.2h1.3v1.3h-1.3zM204.6 28.5h1.3v1.3h-1.3zM203.2 67.1h1.3v1.3h-1.3zM200.9 58.5h1.3v1.3h-1.3zM206.2 68.2h1.3v1.3h-1.3zM204.1 35.8h1.3v1.3h-1.3zM202.0 52.3h1.3v1.3h-1.3zM202.2 55.1h1.3v1.3h-1.3zM205.1 25.2h1.3v1.3h-1.3zM202.5 35.3h1.3v1.3h-1.3zM202.8 38.0h1.3v1.3h-1.3zM205.3 66.7h1.3v1.3h-1.3zM202.8 38.7h1.3v1.3h-1.3zM202.0 63.6h1.3v1.3h-1.3zM203.1 23.9h1.3v1.3h-1.3zM204.4 42.7h1.3v1.3h-1.3zM202.5 49.7h1.3v1.3h-1.3zM200.9 65.3h1.3v1.3h-1.3zM205.8 58.7h1.3v1.3h-1.3zM201.5 45.8h1.3v1.3h-1.3zM201.4 42.0h1.3v1.3h-1.3zM203.5 69.2h1.3v1.3h-1.3zM205.2 28.1h1.3v1.3h-1.3zM202.4 37.1h1.3v1.3h-1.3zM203.9 60.7h1.3v1.3h-1.3zM205.4 42.0h1.3v1.3h-1.3zM204.3 58.2h1.3v1.3h-1.3zM206.3 54.1h1.3v1.3h-1.3zM204.8 32.3h1.3v1.3h-1.3zM203.9 59.5h1.3v1.3h-1.3zM205.4 41.0h1.3v1.3h-1.3zM203.2 73.1h1.3v1.3h-1.3zM203.6 32.7h1.3v1.3h-1.3zM201.4 64.6h1.3v1.3h-1.3zM206.3 39.2h1.3v1.3h-1.3zM199.7 56.5h1.3v1.3h-1.3zM203.7 65.0h1.3v1.3h-1.3zM206.3 53.8h1.3v1.3h-1.3zM205.6 49.0h1.3v1.3h-1.3zM202.7 35.2h1.3v1.3h-1.3zM202.7 60.1h1.3v1.3h-1.3zM205.4 40.2h1.3v1.3h-1.3zM203.0 37.7h1.3v1.3h-1.3zM200.9 54.1h1.3v1.3h-1.3zM199.5 55.6h1.3v1.3h-1.3zM205.5 20.2h1.3v1.3h-1.3zM204.2 37.5h1.3v1.3h-1.3zM202.2 33.9h1.3v1.3h-1.3zM202.6 42.5h1.3v1.3h-1.3zM206.3 37.2h1.3v1.3h-1.3zM201.3 45.8h1.3v1.3h-1.3zM201.0 29.2h1.3v1.3h-1.3zM205.8 50.6h1.3v1.3h-1.3zM202.4 71.0h1.3v1.3h-1.3zM199.5 52.1h1.3v1.3h-1.3zM203.7 52.6h1.3v1.3h-1.3zM204.2 26.0h1.3v1.3h-1.3zM204.2 26.8h1.3v1.3h-1.3zM200.8 58.8h1.3v1.3h-1.3zM206.3 32.0h1.3v1.3h-1.3zM203.8 51.2h1.3v1.3h-1.3zM201.2 46.1h1.3v1.3h-1.3zM202.9 73.0h1.3v1.3h-1.3zM201.8 39.8h1.3v1.3h-1.3zM204.4 37.8h1.3v1.3h-1.3zM204.5 60.9h1.3v1.3h-1.3zM201.0 52.4h1.3v1.3h-1.3zM204.3 51.0h1.3v1.3h-1.3zM203.8 75.0h1.3v1.3h-1.3zM205.5 41.4h1.3v1.3h-1.3zM205.1 21.6h1.3v1.3h-1.3zM204.5 46.4h1.3v1.3h-1.3zM203.9 71.2h1.3v1.3h-1.3zM203.0 71.9h1.3v1.3h-1.3zM202.8 45.8h1.3v1.3h-1.3zM204.3 45.5h1.3v1.3h-1.3zM203.9 66.5h1.3v1.3h-1.3zM202.3 68.6h1.3v1.3h-1.3zM203.5 46.4h1.3v1.3h-1.3zM203.6 22.5h1.3v1.3h-1.3zM204.2 34.6h1.3v1.3h-1.3zM204.7 26.6h1.3v1.3h-1.3zM205.6 38.8h1.3v1.3h-1.3zM206.3 44.3h1.3v1.3h-1.3zM200.8 43.3h1.3v1.3h-1.3zM206.3 75.8h1.3v1.3h-1.3zM201.3 74.3h1.3v1.3h-1.3zM203.7 56.5h1.3v1.3h-1.3zM204.6 34.2h1.3v1.3h-1.3zM202.8 57.7h1.3v1.3h-1.3zM203.2 51.1h1.3v1.3h-1.3zM202.7 54.5h1.3v1.3h-1.3zM202.5 65.2h1.3v1.3h-1.3zM202.1 73.4h1.3v1.3h-1.3zM202.0 66.4h1.3v1.3h-1.3zM201.6 77.3h1.3v1.3h-1.3zM204.3 22.6h1.3v1.3h-1.3zM205.6 44.8h1.3v1.3h-1.3zM203.0 26.5h1.3v1.3h-1.3zM201.1 76.0h1.3v1.3h-1.3zM206.3 82.3h1.3v1.3h-1.3zM204.4 90.8h1.3v1.3h-1.3zM204.6 92.6h1.3v1.3h-1.3zM206.3 88.6h1.3v1.3h-1.3zM203.5 91.4h1.3v1.3h-1.3zM203.9 86.4h1.3v1.3h-1.3zM201.8 86.8h1.3v1.3h-1.3zM204.6 86.4h1.3v1.3h-1.3zM203.4 95.1h1.3v1.3h-1.3zM205.1 95.3h1.3v1.3h-1.3zM203.7 88.4h1.3v1.3h-1.3zM201.5 94.1h1.3v1.3h-1.3zM202.4 89.0h1.3v1.3h-1.3zM202.5 88.0h1.3v1.3h-1.3zM206.0 18.2h1.3v1.3h-1.3zM216.8 16.9h1.3v1.3h-1.3zM198.8 18.2h1.3v1.3h-1.3zM219.0 18.3h1.3v1.3h-1.3zM211.7 17.2h1.3v1.3h-1.3zM209.7 16.9h1.3v1.3h-1.3zM217.2 17.8h1.3v1.3h-1.3zM213.7 17.9h1.3v1.3h-1.3zM204.8 17.1h1.3v1.3h-1.3zM203.4 16.9h1.3v1.3h-1.3zM220.3 18.0h1.3v1.3h-1.3zM216.4 18.4h1.3v1.3h-1.3zM204.3 17.8h1.3v1.3h-1.3zM204.5 17.4h1.3v1.3h-1.3zM196.4 18.2h1.3v1.3h-1.3zM197.3 18.4h1.3v1.3h-1.3zM206.0 17.2h1.3v1.3h-1.3zM199.8 17.4h1.3v1.3h-1.3zM208.1 17.7h1.3v1.3h-1.3zM218.1 17.0h1.3v1.3h-1.3zM216.7 18.3h1.3v1.3h-1.3zM220.0 17.7h1.3v1.3h-1.3z" fill="#111"/>
<path d="M206.3 38.4h1.2v1.2h-1.2zM204.9 32.6h1.2v1.2h-1.2zM201.7 27.8h1.2v1.2h-1.2zM205.4 21.6h1.2v1.2h-1.2zM204.6 31.3h1.2v1.2h-1.2zM204.5 25.7h1.2v1.2h-1.2zM201.8 42.5h1.2v1.2h-1.2zM202.8 68.7h1.2v1.2h-1.2zM204.5 61.2h1.2v1.2h-1.2zM202.9 45.4h1.2v1.2h-1.2zM202.8 31.0h1.2v1.2h-1.2zM201.3 30.5h1.2v1.2h-1.2zM204.0 61.4h1.2v1.2h-1.2zM204.2 31.0h1.2v1.2h-1.2zM202.5 25.5h1.2v1.2h-1.2zM202.0 71.3h1.2v1.2h-1.2zM201.9 35.8h1.2v1.2h-1.2zM200.5 43.6h1.2v1.2h-1.2zM200.8 43.8h1.2v1.2h-1.2zM206.3 47.4h1.2v1.2h-1.2zM203.7 56.7h1.2v1.2h-1.2zM204.1 63.4h1.2v1.2h-1.2zM204.5 35.2h1.2v1.2h-1.2zM202.8 42.7h1.2v1.2h-1.2zM202.2 24.9h1.2v1.2h-1.2zM203.0 29.5h1.2v1.2h-1.2zM204.6 49.1h1.2v1.2h-1.2zM205.4 67.6h1.2v1.2h-1.2zM203.0 20.8h1.2v1.2h-1.2zM204.6 63.4h1.2v1.2h-1.2zM202.2 33.1h1.2v1.2h-1.2zM202.6 25.5h1.2v1.2h-1.2zM204.0 59.2h1.2v1.2h-1.2zM203.6 45.3h1.2v1.2h-1.2zM204.3 54.3h1.2v1.2h-1.2zM204.4 30.3h1.2v1.2h-1.2zM203.5 51.2h1.2v1.2h-1.2zM203.5 56.2h1.2v1.2h-1.2zM204.2 59.0h1.2v1.2h-1.2zM200.6 56.2h1.2v1.2h-1.2zM206.3 52.2h1.2v1.2h-1.2zM203.3 45.7h1.2v1.2h-1.2zM205.9 77.2h1.2v1.2h-1.2zM205.9 25.1h1.2v1.2h-1.2zM203.8 46.6h1.2v1.2h-1.2zM204.7 25.4h1.2v1.2h-1.2zM200.9 50.2h1.2v1.2h-1.2zM205.5 71.2h1.2v1.2h-1.2zM204.6 76.1h1.2v1.2h-1.2zM204.4 44.7h1.2v1.2h-1.2zM204.6 64.2h1.2v1.2h-1.2zM203.1 65.4h1.2v1.2h-1.2zM200.9 38.0h1.2v1.2h-1.2zM204.2 59.0h1.2v1.2h-1.2zM204.5 18.9h1.2v1.2h-1.2zM205.3 58.9h1.2v1.2h-1.2zM204.7 21.7h1.2v1.2h-1.2zM205.8 36.6h1.2v1.2h-1.2zM205.4 36.1h1.2v1.2h-1.2zM203.1 46.1h1.2v1.2h-1.2zM203.6 57.9h1.2v1.2h-1.2zM203.9 41.6h1.2v1.2h-1.2zM204.1 61.4h1.2v1.2h-1.2zM204.4 20.6h1.2v1.2h-1.2zM204.0 49.9h1.2v1.2h-1.2zM205.8 67.1h1.2v1.2h-1.2zM202.9 26.2h1.2v1.2h-1.2zM203.2 77.4h1.2v1.2h-1.2zM203.3 67.4h1.2v1.2h-1.2zM204.1 31.1h1.2v1.2h-1.2zM203.6 49.6h1.2v1.2h-1.2zM205.7 27.2h1.2v1.2h-1.2zM200.2 71.5h1.2v1.2h-1.2zM200.9 72.5h1.2v1.2h-1.2zM203.7 36.5h1.2v1.2h-1.2zM202.5 37.1h1.2v1.2h-1.2zM202.8 71.3h1.2v1.2h-1.2zM204.3 42.5h1.2v1.2h-1.2zM204.8 35.7h1.2v1.2h-1.2zM204.2 66.6h1.2v1.2h-1.2zM203.4 64.5h1.2v1.2h-1.2zM204.8 29.4h1.2v1.2h-1.2zM206.2 78.0h1.2v1.2h-1.2zM205.8 58.9h1.2v1.2h-1.2zM204.3 67.0h1.2v1.2h-1.2zM203.9 92.2h1.2v1.2h-1.2zM202.8 86.0h1.2v1.2h-1.2zM203.7 79.6h1.2v1.2h-1.2zM206.1 79.6h1.2v1.2h-1.2zM200.7 85.1h1.2v1.2h-1.2zM202.0 89.9h1.2v1.2h-1.2zM204.9 92.2h1.2v1.2h-1.2zM206.3 91.1h1.2v1.2h-1.2zM203.1 84.7h1.2v1.2h-1.2zM203.2 82.8h1.2v1.2h-1.2zM204.2 86.4h1.2v1.2h-1.2zM205.6 90.1h1.2v1.2h-1.2zM206.0 80.9h1.2v1.2h-1.2zM203.8 88.5h1.2v1.2h-1.2zM205.7 79.8h1.2v1.2h-1.2zM204.7 89.9h1.2v1.2h-1.2zM203.7 88.1h1.2v1.2h-1.2zM217.1 41.1h1.2v1.2h-1.2zM208.4 55.1h1.2v1.2h-1.2zM208.2 60.4h1.2v1.2h-1.2zM210.1 27.9h1.2v1.2h-1.2zM213.9 26.6h1.2v1.2h-1.2zM221.6 46.6h1.2v1.2h-1.2zM210.1 32.3h1.2v1.2h-1.2zM215.6 34.3h1.2v1.2h-1.2zM218.6 56.5h1.2v1.2h-1.2zM217.5 25.9h1.2v1.2h-1.2zM214.7 39.6h1.2v1.2h-1.2zM215.2 59.8h1.2v1.2h-1.2zM209.4 20.7h1.2v1.2h-1.2zM213.8 52.9h1.2v1.2h-1.2zM211.8 37.1h1.2v1.2h-1.2zM211.4 29.3h1.2v1.2h-1.2zM215.8 40.6h1.2v1.2h-1.2zM209.0 19.2h1.2v1.2h-1.2zM211.4 54.0h1.2v1.2h-1.2zM215.5 20.7h1.2v1.2h-1.2zM211.3 61.1h1.2v1.2h-1.2zM213.1 60.2h1.2v1.2h-1.2zM222.0 51.5h1.2v1.2h-1.2zM208.2 39.1h1.2v1.2h-1.2zM218.9 34.8h1.2v1.2h-1.2zM214.4 54.4h1.2v1.2h-1.2zM218.3 37.7h1.2v1.2h-1.2zM216.2 51.4h1.2v1.2h-1.2zM214.5 72.0h1.2v1.2h-1.2zM208.9 32.1h1.2v1.2h-1.2zM214.4 44.6h1.2v1.2h-1.2zM211.3 46.0h1.2v1.2h-1.2zM213.4 50.1h1.2v1.2h-1.2zM201.5 17.4h1.2v1.2h-1.2zM213.3 17.5h1.2v1.2h-1.2zM214.4 17.0h1.2v1.2h-1.2zM216.4 18.2h1.2v1.2h-1.2zM218.7 16.9h1.2v1.2h-1.2zM199.4 18.2h1.2v1.2h-1.2z" fill="#555"/>
<path d="M204.7 91.6h1.2v1.2h-1.2zM204.5 95.2h1.2v1.2h-1.2zM203.6 78.4h1.2v1.2h-1.2zM203.1 96.0h1.2v1.2h-1.2zM204.3 81.0h1.2v1.2h-1.2zM205.0 90.3h1.2v1.2h-1.2zM206.1 88.3h1.2v1.2h-1.2zM203.9 83.6h1.2v1.2h-1.2zM203.2 82.4h1.2v1.2h-1.2zM222.0 54.9h1.2v1.2h-1.2zM214.1 65.6h1.2v1.2h-1.2zM212.0 42.5h1.2v1.2h-1.2zM214.9 21.1h1.2v1.2h-1.2zM211.0 47.9h1.2v1.2h-1.2zM208.2 39.5h1.2v1.2h-1.2zM216.7 58.2h1.2v1.2h-1.2zM210.5 57.6h1.2v1.2h-1.2zM208.2 18.4h1.2v1.2h-1.2zM220.1 52.4h1.2v1.2h-1.2zM211.5 39.4h1.2v1.2h-1.2zM210.7 29.9h1.2v1.2h-1.2zM214.2 54.9h1.2v1.2h-1.2zM208.2 45.7h1.2v1.2h-1.2zM211.0 33.4h1.2v1.2h-1.2zM210.3 63.9h1.2v1.2h-1.2zM210.6 75.2h1.2v1.2h-1.2zM209.9 33.0h1.2v1.2h-1.2zM214.4 19.2h1.2v1.2h-1.2zM220.6 62.9h1.2v1.2h-1.2zM217.5 73.2h1.2v1.2h-1.2zM213.5 27.0h1.2v1.2h-1.2zM218.7 59.4h1.2v1.2h-1.2zM212.0 33.7h1.2v1.2h-1.2zM212.0 22.1h1.2v1.2h-1.2zM214.4 74.1h1.2v1.2h-1.2zM210.7 28.9h1.2v1.2h-1.2z" fill="#888"/>
<text x="230.6" y="30.7" font-size="11.3" font-weight="bold" text-anchor="start" fill="#000">Cited2<tspan font-size="7.6" dy="-3" letter-spacing="0.6">Δ/Δ</tspan></text>
<text x="213" y="98" font-size="10.6" text-anchor="start" fill="#1a1a1a" stroke="#1a1a1a" stroke-width="0.15" textLength="41" lengthAdjust="spacingAndGlyphs">G0:11.6%</text>
<line x1="60.2" y1="150" x2="60.2" y2="249.9" stroke="#000" stroke-width="1.2"/>
<line x1="59.7" y1="249.4" x2="170.5" y2="249.4" stroke="#000" stroke-width="1.2"/>
<line x1="57.2" y1="245.52" x2="60.2" y2="245.52" stroke="#000" stroke-width="1"/>
<line x1="57.2" y1="241.74" x2="60.2" y2="241.74" stroke="#000" stroke-width="1"/>
<line x1="57.2" y1="237.96" x2="60.2" y2="237.96" stroke="#000" stroke-width="1"/>
<line x1="57.2" y1="234.18" x2="60.2" y2="234.18" stroke="#000" stroke-width="1"/>
<line x1="57.2" y1="230.4" x2="60.2" y2="230.4" stroke="#000" stroke-width="1"/>
<line x1="57.2" y1="226.62" x2="60.2" y2="226.62" stroke="#000" stroke-width="1"/>
<line x1="57.2" y1="222.84" x2="60.2" y2="222.84" stroke="#000" stroke-width="1"/>
<line x1="57.2" y1="219.06" x2="60.2" y2="219.06" stroke="#000" stroke-width="1"/>
<line x1="57.2" y1="215.28" x2="60.2" y2="215.28" stroke="#000" stroke-width="1"/>
<line x1="57.2" y1="211.5" x2="60.2" y2="211.5" stroke="#000" stroke-width="1"/>
<line x1="57.2" y1="207.72000000000003" x2="60.2" y2="207.72000000000003" stroke="#000" stroke-width="1"/>
<line x1="57.2" y1="203.94" x2="60.2" y2="203.94" stroke="#000" stroke-width="1"/>
<line x1="57.2" y1="200.16000000000003" x2="60.2" y2="200.16000000000003" stroke="#000" stroke-width="1"/>
<line x1="57.2" y1="196.38" x2="60.2" y2="196.38" stroke="#000" stroke-width="1"/>
<line x1="57.2" y1="192.60000000000002" x2="60.2" y2="192.60000000000002" stroke="#000" stroke-width="1"/>
<line x1="57.2" y1="188.82" x2="60.2" y2="188.82" stroke="#000" stroke-width="1"/>
<line x1="57.2" y1="185.04000000000002" x2="60.2" y2="185.04000000000002" stroke="#000" stroke-width="1"/>
<line x1="57.2" y1="181.26" x2="60.2" y2="181.26" stroke="#000" stroke-width="1"/>
<line x1="57.2" y1="177.48000000000002" x2="60.2" y2="177.48000000000002" stroke="#000" stroke-width="1"/>
<line x1="57.2" y1="173.70000000000002" x2="60.2" y2="173.70000000000002" stroke="#000" stroke-width="1"/>
<line x1="57.2" y1="169.92000000000002" x2="60.2" y2="169.92000000000002" stroke="#000" stroke-width="1"/>
<line x1="57.2" y1="166.14000000000001" x2="60.2" y2="166.14000000000001" stroke="#000" stroke-width="1"/>
<line x1="57.2" y1="162.36" x2="60.2" y2="162.36" stroke="#000" stroke-width="1"/>
<line x1="57.2" y1="158.58" x2="60.2" y2="158.58" stroke="#000" stroke-width="1"/>
<line x1="57.2" y1="154.8" x2="60.2" y2="154.8" stroke="#000" stroke-width="1"/>
<line x1="57.2" y1="151.02" x2="60.2" y2="151.02" stroke="#000" stroke-width="1"/>
<text x="53.0" y="229.6" font-size="5.2" font-weight="bold" text-anchor="middle" fill="#1a1a1a" transform="rotate(-90 53.0 229.6)" dominant-baseline="central">50</text>
<text x="53.0" y="210.7" font-size="5.2" font-weight="bold" text-anchor="middle" fill="#1a1a1a" transform="rotate(-90 53.0 210.7)" dominant-baseline="central">100</text>
<text x="53.0" y="191.8" font-size="5.2" font-weight="bold" text-anchor="middle" fill="#1a1a1a" transform="rotate(-90 53.0 191.8)" dominant-baseline="central">150</text>
<text x="53.0" y="172.9" font-size="5.2" font-weight="bold" text-anchor="middle" fill="#1a1a1a" transform="rotate(-90 53.0 172.9)" dominant-baseline="central">200</text>
<text x="53.0" y="154.0" font-size="5.2" font-weight="bold" text-anchor="middle" fill="#1a1a1a" transform="rotate(-90 53.0 154.0)" dominant-baseline="central">250</text>
<text x="46.0" y="161.5" font-size="5.1" font-weight="bold" text-anchor="middle" fill="#1a1a1a" transform="rotate(-90 46.0 161.5)" dominant-baseline="central">(x 1,000)</text>
<line x1="64.03999999999999" y1="249.4" x2="64.03999999999999" y2="252.6" stroke="#000" stroke-width="1"/>
<line x1="68.28" y1="249.4" x2="68.28" y2="252.6" stroke="#000" stroke-width="1"/>
<line x1="72.52" y1="249.4" x2="72.52" y2="252.6" stroke="#000" stroke-width="1"/>
<line x1="76.75999999999999" y1="249.4" x2="76.75999999999999" y2="252.6" stroke="#000" stroke-width="1"/>
<line x1="81.0" y1="249.4" x2="81.0" y2="254.9" stroke="#000" stroke-width="1"/>
<line x1="85.24" y1="249.4" x2="85.24" y2="252.6" stroke="#000" stroke-width="1"/>
<line x1="89.47999999999999" y1="249.4" x2="89.47999999999999" y2="252.6" stroke="#000" stroke-width="1"/>
<line x1="93.72" y1="249.4" x2="93.72" y2="252.6" stroke="#000" stroke-width="1"/>
<line x1="97.96" y1="249.4" x2="97.96" y2="252.6" stroke="#000" stroke-width="1"/>
<line x1="102.19999999999999" y1="249.4" x2="102.19999999999999" y2="254.9" stroke="#000" stroke-width="1"/>
<line x1="106.44" y1="249.4" x2="106.44" y2="252.6" stroke="#000" stroke-width="1"/>
<line x1="110.67999999999999" y1="249.4" x2="110.67999999999999" y2="252.6" stroke="#000" stroke-width="1"/>
<line x1="114.91999999999999" y1="249.4" x2="114.91999999999999" y2="252.6" stroke="#000" stroke-width="1"/>
<line x1="119.16" y1="249.4" x2="119.16" y2="252.6" stroke="#000" stroke-width="1"/>
<line x1="123.4" y1="249.4" x2="123.4" y2="254.9" stroke="#000" stroke-width="1"/>
<line x1="127.64" y1="249.4" x2="127.64" y2="252.6" stroke="#000" stroke-width="1"/>
<line x1="131.88" y1="249.4" x2="131.88" y2="252.6" stroke="#000" stroke-width="1"/>
<line x1="136.12" y1="249.4" x2="136.12" y2="252.6" stroke="#000" stroke-width="1"/>
<line x1="140.36" y1="249.4" x2="140.36" y2="252.6" stroke="#000" stroke-width="1"/>
<line x1="144.6" y1="249.4" x2="144.6" y2="254.9" stroke="#000" stroke-width="1"/>
<line x1="148.83999999999997" y1="249.4" x2="148.83999999999997" y2="252.6" stroke="#000" stroke-width="1"/>
<line x1="153.07999999999998" y1="249.4" x2="153.07999999999998" y2="252.6" stroke="#000" stroke-width="1"/>
<line x1="157.32" y1="249.4" x2="157.32" y2="252.6" stroke="#000" stroke-width="1"/>
<line x1="161.56" y1="249.4" x2="161.56" y2="252.6" stroke="#000" stroke-width="1"/>
<line x1="165.8" y1="249.4" x2="165.8" y2="254.9" stroke="#000" stroke-width="1"/>
<line x1="170.04" y1="249.4" x2="170.04" y2="252.6" stroke="#000" stroke-width="1"/>
<text x="81.0" y="260.9" font-size="5.2" font-weight="bold" text-anchor="middle" fill="#1a1a1a">50</text>
<text x="102.19999999999999" y="260.9" font-size="5.2" font-weight="bold" text-anchor="middle" fill="#1a1a1a">100</text>
<text x="123.4" y="260.9" font-size="5.2" font-weight="bold" text-anchor="middle" fill="#1a1a1a">150</text>
<text x="144.6" y="260.9" font-size="5.2" font-weight="bold" text-anchor="middle" fill="#1a1a1a">200</text>
<text x="165.8" y="260.9" font-size="5.2" font-weight="bold" text-anchor="middle" fill="#1a1a1a">250</text>
<text x="171.3" y="267.3" font-size="5.1" font-weight="bold" text-anchor="end" fill="#1a1a1a">(x 1,000)</text>
<line x1="60.2" y1="210.3" x2="170.5" y2="210.3" stroke="#000" stroke-width="1.1"/>
<line x1="83.7" y1="150" x2="83.7" y2="249.4" stroke="#000" stroke-width="1.1"/>
<rect x="66.3" y="210.3" width="17.400000000000006" height="21.69999999999999" fill="none" stroke="#000" stroke-width="1.5"/>
<path d="M79.1 181.1h1.3v1.3h-1.3zM83.0 165.6h1.3v1.3h-1.3zM79.9 179.9h1.3v1.3h-1.3zM79.0 192.9h1.3v1.3h-1.3zM78.8 193.4h1.3v1.3h-1.3zM81.1 195.7h1.3v1.3h-1.3zM79.3 194.6h1.3v1.3h-1.3zM81.0 200.0h1.3v1.3h-1.3zM80.6 207.6h1.3v1.3h-1.3zM81.3 190.9h1.3v1.3h-1.3zM81.6 191.7h1.3v1.3h-1.3zM81.6 205.7h1.3v1.3h-1.3zM79.9 205.8h1.3v1.3h-1.3zM83.0 206.8h1.3v1.3h-1.3zM81.6 226.9h1.3v1.3h-1.3zM82.5 223.6h1.3v1.3h-1.3zM78.6 227.5h1.3v1.3h-1.3zM80.0 213.6h1.3v1.3h-1.3zM79.5 220.3h1.3v1.3h-1.3zM82.0 224.5h1.3v1.3h-1.3zM82.7 222.6h1.3v1.3h-1.3zM82.9 223.7h1.3v1.3h-1.3zM83.0 222.9h1.3v1.3h-1.3zM79.1 226.8h1.3v1.3h-1.3zM81.2 230.3h1.3v1.3h-1.3zM76.6 221.1h1.3v1.3h-1.3zM76.9 228.8h1.3v1.3h-1.3zM82.5 215.6h1.3v1.3h-1.3zM78.6 217.9h1.3v1.3h-1.3zM83.0 214.3h1.3v1.3h-1.3zM77.7 225.0h1.3v1.3h-1.3zM79.0 227.4h1.3v1.3h-1.3zM77.6 221.5h1.3v1.3h-1.3zM79.6 223.7h1.3v1.3h-1.3zM77.3 226.0h1.3v1.3h-1.3zM79.4 222.2h1.3v1.3h-1.3zM79.6 225.5h1.3v1.3h-1.3zM75.8 226.5h1.3v1.3h-1.3zM77.4 222.0h1.3v1.3h-1.3zM79.9 223.5h1.3v1.3h-1.3zM83.0 227.2h1.3v1.3h-1.3zM78.1 218.3h1.3v1.3h-1.3zM82.9 224.7h1.3v1.3h-1.3zM76.9 228.2h1.3v1.3h-1.3zM81.0 220.1h1.3v1.3h-1.3zM74.9 220.6h1.3v1.3h-1.3zM80.4 226.6h1.3v1.3h-1.3zM78.1 214.7h1.3v1.3h-1.3zM79.8 214.5h1.3v1.3h-1.3zM83.0 226.6h1.3v1.3h-1.3zM72.8 228.1h1.3v1.3h-1.3zM79.0 215.9h1.3v1.3h-1.3zM79.2 226.1h1.3v1.3h-1.3zM78.1 218.7h1.3v1.3h-1.3zM83.0 226.0h1.3v1.3h-1.3zM75.4 223.7h1.3v1.3h-1.3zM79.6 219.1h1.3v1.3h-1.3zM77.4 221.6h1.3v1.3h-1.3zM74.4 226.5h1.3v1.3h-1.3zM76.2 220.5h1.3v1.3h-1.3zM78.2 224.9h1.3v1.3h-1.3zM76.2 221.3h1.3v1.3h-1.3zM74.5 228.0h1.3v1.3h-1.3zM77.7 222.9h1.3v1.3h-1.3zM76.3 224.6h1.3v1.3h-1.3zM82.8 228.3h1.3v1.3h-1.3zM69.2 227.2h1.3v1.3h-1.3zM75.4 229.2h1.3v1.3h-1.3zM79.7 226.8h1.3v1.3h-1.3zM81.3 227.8h1.3v1.3h-1.3zM78.5 222.6h1.3v1.3h-1.3zM82.3 225.6h1.3v1.3h-1.3zM79.8 219.1h1.3v1.3h-1.3zM79.5 225.2h1.3v1.3h-1.3zM81.2 218.0h1.3v1.3h-1.3zM80.9 220.1h1.3v1.3h-1.3zM73.2 224.6h1.3v1.3h-1.3z" fill="#111"/>
<path d="M72.0 191.8h1.2v1.2h-1.2zM76.4 199.4h1.2v1.2h-1.2zM77.4 196.0h1.2v1.2h-1.2zM78.3 196.5h1.2v1.2h-1.2zM78.8 197.3h1.2v1.2h-1.2zM82.2 195.9h1.2v1.2h-1.2zM79.5 198.8h1.2v1.2h-1.2zM81.6 180.7h1.2v1.2h-1.2zM78.1 178.9h1.2v1.2h-1.2zM80.8 177.5h1.2v1.2h-1.2zM77.6 183.0h1.2v1.2h-1.2zM77.7 199.1h1.2v1.2h-1.2zM83.0 177.7h1.2v1.2h-1.2zM83.0 204.2h1.2v1.2h-1.2zM80.2 195.2h1.2v1.2h-1.2zM82.4 205.2h1.2v1.2h-1.2zM82.5 202.9h1.2v1.2h-1.2zM80.5 203.1h1.2v1.2h-1.2zM80.9 190.3h1.2v1.2h-1.2zM82.5 209.3h1.2v1.2h-1.2zM79.2 194.7h1.2v1.2h-1.2zM79.8 219.9h1.2v1.2h-1.2zM81.2 228.6h1.2v1.2h-1.2zM78.8 229.3h1.2v1.2h-1.2zM79.5 229.0h1.2v1.2h-1.2zM77.4 226.6h1.2v1.2h-1.2zM81.5 227.4h1.2v1.2h-1.2zM83.0 221.1h1.2v1.2h-1.2zM79.1 216.5h1.2v1.2h-1.2zM78.0 230.1h1.2v1.2h-1.2zM74.3 224.3h1.2v1.2h-1.2zM82.1 217.2h1.2v1.2h-1.2zM75.3 220.8h1.2v1.2h-1.2zM79.6 228.2h1.2v1.2h-1.2zM75.3 222.0h1.2v1.2h-1.2zM76.6 215.6h1.2v1.2h-1.2zM77.6 224.3h1.2v1.2h-1.2zM80.6 213.3h1.2v1.2h-1.2zM76.2 214.4h1.2v1.2h-1.2zM76.7 229.9h1.2v1.2h-1.2zM80.0 226.9h1.2v1.2h-1.2zM80.5 222.8h1.2v1.2h-1.2zM76.0 223.5h1.2v1.2h-1.2zM79.5 228.4h1.2v1.2h-1.2zM77.5 224.7h1.2v1.2h-1.2zM81.8 217.4h1.2v1.2h-1.2zM79.1 225.4h1.2v1.2h-1.2zM70.6 228.1h1.2v1.2h-1.2zM80.4 220.0h1.2v1.2h-1.2zM77.2 219.2h1.2v1.2h-1.2zM79.0 219.0h1.2v1.2h-1.2zM76.0 227.5h1.2v1.2h-1.2zM73.1 229.7h1.2v1.2h-1.2zM78.4 228.9h1.2v1.2h-1.2zM72.7 227.7h1.2v1.2h-1.2zM73.7 223.9h1.2v1.2h-1.2zM77.7 222.2h1.2v1.2h-1.2zM81.3 229.6h1.2v1.2h-1.2zM77.4 230.2h1.2v1.2h-1.2zM73.5 225.9h1.2v1.2h-1.2zM78.1 219.0h1.2v1.2h-1.2zM79.4 229.2h1.2v1.2h-1.2zM72.1 215.9h1.2v1.2h-1.2zM80.3 226.1h1.2v1.2h-1.2zM79.6 227.0h1.2v1.2h-1.2zM82.3 227.8h1.2v1.2h-1.2zM78.3 226.9h1.2v1.2h-1.2zM76.5 223.6h1.2v1.2h-1.2zM77.0 216.1h1.2v1.2h-1.2zM79.0 229.6h1.2v1.2h-1.2zM75.7 220.4h1.2v1.2h-1.2zM81.9 227.9h1.2v1.2h-1.2zM78.1 220.9h1.2v1.2h-1.2zM78.3 224.0h1.2v1.2h-1.2zM83.0 228.1h1.2v1.2h-1.2zM74.3 224.4h1.2v1.2h-1.2zM84.7 226.1h1.2v1.2h-1.2zM85.7 224.3h1.2v1.2h-1.2z" fill="#555"/>
<path d="M83.0 195.8h1.2v1.2h-1.2zM72.0 191.4h1.2v1.2h-1.2zM77.0 198.4h1.2v1.2h-1.2zM77.7 188.8h1.2v1.2h-1.2zM80.1 202.0h1.2v1.2h-1.2zM82.9 197.5h1.2v1.2h-1.2zM79.8 195.1h1.2v1.2h-1.2zM82.1 206.7h1.2v1.2h-1.2zM80.1 202.8h1.2v1.2h-1.2zM79.8 196.2h1.2v1.2h-1.2zM78.8 207.8h1.2v1.2h-1.2zM82.1 190.7h1.2v1.2h-1.2zM80.7 220.4h1.2v1.2h-1.2zM76.9 223.1h1.2v1.2h-1.2zM72.2 226.4h1.2v1.2h-1.2zM75.3 224.0h1.2v1.2h-1.2zM81.2 216.6h1.2v1.2h-1.2zM73.2 225.4h1.2v1.2h-1.2zM75.1 222.1h1.2v1.2h-1.2zM79.3 223.4h1.2v1.2h-1.2zM75.4 227.0h1.2v1.2h-1.2zM78.5 225.1h1.2v1.2h-1.2zM80.4 225.5h1.2v1.2h-1.2zM83.0 222.5h1.2v1.2h-1.2zM83.0 219.7h1.2v1.2h-1.2zM69.5 224.5h1.2v1.2h-1.2zM78.8 222.3h1.2v1.2h-1.2zM79.6 220.2h1.2v1.2h-1.2zM79.8 214.2h1.2v1.2h-1.2zM75.7 223.7h1.2v1.2h-1.2zM74.2 228.6h1.2v1.2h-1.2zM73.9 220.2h1.2v1.2h-1.2zM76.6 228.3h1.2v1.2h-1.2zM77.8 229.2h1.2v1.2h-1.2zM85.1 220.8h1.2v1.2h-1.2zM84.6 222.7h1.2v1.2h-1.2zM87.7 209.6h1.2v1.2h-1.2z" fill="#888"/>
<text x="134.6" y="164.4" font-size="11.8" font-weight="bold" text-anchor="start" fill="#000">WT</text>
<text x="91.1" y="234" font-size="10.6" text-anchor="start" fill="#1a1a1a" stroke="#1a1a1a" stroke-width="0.15" textLength="41" lengthAdjust="spacingAndGlyphs">G0:73.8%</text>
<line x1="184.6" y1="150" x2="184.6" y2="249.0" stroke="#000" stroke-width="1.2"/>
<line x1="184.1" y1="248.5" x2="295" y2="248.5" stroke="#000" stroke-width="1.2"/>
<line x1="181.6" y1="245.52" x2="184.6" y2="245.52" stroke="#000" stroke-width="1"/>
<line x1="181.6" y1="241.74" x2="184.6" y2="241.74" stroke="#000" stroke-width="1"/>
<line x1="181.6" y1="237.96" x2="184.6" y2="237.96" stroke="#000" stroke-width="1"/>
<line x1="181.6" y1="234.18" x2="184.6" y2="234.18" stroke="#000" stroke-width="1"/>
<line x1="181.6" y1="230.4" x2="184.6" y2="230.4" stroke="#000" stroke-width="1"/>
<line x1="181.6" y1="226.62" x2="184.6" y2="226.62" stroke="#000" stroke-width="1"/>
<line x1="181.6" y1="222.84" x2="184.6" y2="222.84" stroke="#000" stroke-width="1"/>
<line x1="181.6" y1="219.06" x2="184.6" y2="219.06" stroke="#000" stroke-width="1"/>
<line x1="181.6" y1="215.28" x2="184.6" y2="215.28" stroke="#000" stroke-width="1"/>
<line x1="181.6" y1="211.5" x2="184.6" y2="211.5" stroke="#000" stroke-width="1"/>
<line x1="181.6" y1="207.72000000000003" x2="184.6" y2="207.72000000000003" stroke="#000" stroke-width="1"/>
<line x1="181.6" y1="203.94" x2="184.6" y2="203.94" stroke="#000" stroke-width="1"/>
<line x1="181.6" y1="200.16000000000003" x2="184.6" y2="200.16000000000003" stroke="#000" stroke-width="1"/>
<line x1="181.6" y1="196.38" x2="184.6" y2="196.38" stroke="#000" stroke-width="1"/>
<line x1="181.6" y1="192.60000000000002" x2="184.6" y2="192.60000000000002" stroke="#000" stroke-width="1"/>
<line x1="181.6" y1="188.82" x2="184.6" y2="188.82" stroke="#000" stroke-width="1"/>
<line x1="181.6" y1="185.04000000000002" x2="184.6" y2="185.04000000000002" stroke="#000" stroke-width="1"/>
<line x1="181.6" y1="181.26" x2="184.6" y2="181.26" stroke="#000" stroke-width="1"/>
<line x1="181.6" y1="177.48000000000002" x2="184.6" y2="177.48000000000002" stroke="#000" stroke-width="1"/>
<line x1="181.6" y1="173.70000000000002" x2="184.6" y2="173.70000000000002" stroke="#000" stroke-width="1"/>
<line x1="181.6" y1="169.92000000000002" x2="184.6" y2="169.92000000000002" stroke="#000" stroke-width="1"/>
<line x1="181.6" y1="166.14000000000001" x2="184.6" y2="166.14000000000001" stroke="#000" stroke-width="1"/>
<line x1="181.6" y1="162.36" x2="184.6" y2="162.36" stroke="#000" stroke-width="1"/>
<line x1="181.6" y1="158.58" x2="184.6" y2="158.58" stroke="#000" stroke-width="1"/>
<line x1="181.6" y1="154.8" x2="184.6" y2="154.8" stroke="#000" stroke-width="1"/>
<line x1="181.6" y1="151.02" x2="184.6" y2="151.02" stroke="#000" stroke-width="1"/>
<text x="177.4" y="229.6" font-size="5.2" font-weight="bold" text-anchor="middle" fill="#1a1a1a" transform="rotate(-90 177.4 229.6)" dominant-baseline="central">50</text>
<text x="177.4" y="210.7" font-size="5.2" font-weight="bold" text-anchor="middle" fill="#1a1a1a" transform="rotate(-90 177.4 210.7)" dominant-baseline="central">100</text>
<text x="177.4" y="191.8" font-size="5.2" font-weight="bold" text-anchor="middle" fill="#1a1a1a" transform="rotate(-90 177.4 191.8)" dominant-baseline="central">150</text>
<text x="177.4" y="172.9" font-size="5.2" font-weight="bold" text-anchor="middle" fill="#1a1a1a" transform="rotate(-90 177.4 172.9)" dominant-baseline="central">200</text>
<text x="177.4" y="154.0" font-size="5.2" font-weight="bold" text-anchor="middle" fill="#1a1a1a" transform="rotate(-90 177.4 154.0)" dominant-baseline="central">250</text>
<line x1="187.87" y1="248.5" x2="187.87" y2="251.7" stroke="#000" stroke-width="1"/>
<line x1="192.14" y1="248.5" x2="192.14" y2="251.7" stroke="#000" stroke-width="1"/>
<line x1="196.41" y1="248.5" x2="196.41" y2="251.7" stroke="#000" stroke-width="1"/>
<line x1="200.68" y1="248.5" x2="200.68" y2="251.7" stroke="#000" stroke-width="1"/>
<line x1="204.95" y1="248.5" x2="204.95" y2="254.0" stroke="#000" stroke-width="1"/>
<line x1="209.22" y1="248.5" x2="209.22" y2="251.7" stroke="#000" stroke-width="1"/>
<line x1="213.49" y1="248.5" x2="213.49" y2="251.7" stroke="#000" stroke-width="1"/>
<line x1="217.76" y1="248.5" x2="217.76" y2="251.7" stroke="#000" stroke-width="1"/>
<line x1="222.03" y1="248.5" x2="222.03" y2="251.7" stroke="#000" stroke-width="1"/>
<line x1="226.29999999999998" y1="248.5" x2="226.29999999999998" y2="254.0" stroke="#000" stroke-width="1"/>
<line x1="230.57" y1="248.5" x2="230.57" y2="251.7" stroke="#000" stroke-width="1"/>
<line x1="234.84" y1="248.5" x2="234.84" y2="251.7" stroke="#000" stroke-width="1"/>
<line x1="239.10999999999999" y1="248.5" x2="239.10999999999999" y2="251.7" stroke="#000" stroke-width="1"/>
<line x1="243.38" y1="248.5" x2="243.38" y2="251.7" stroke="#000" stroke-width="1"/>
<line x1="247.64999999999998" y1="248.5" x2="247.64999999999998" y2="254.0" stroke="#000" stroke-width="1"/>
<line x1="251.92" y1="248.5" x2="251.92" y2="251.7" stroke="#000" stroke-width="1"/>
<line x1="256.19" y1="248.5" x2="256.19" y2="251.7" stroke="#000" stroke-width="1"/>
<line x1="260.46" y1="248.5" x2="260.46" y2="251.7" stroke="#000" stroke-width="1"/>
<line x1="264.73" y1="248.5" x2="264.73" y2="251.7" stroke="#000" stroke-width="1"/>
<line x1="269.0" y1="248.5" x2="269.0" y2="254.0" stroke="#000" stroke-width="1"/>
<line x1="273.27" y1="248.5" x2="273.27" y2="251.7" stroke="#000" stroke-width="1"/>
<line x1="277.53999999999996" y1="248.5" x2="277.53999999999996" y2="251.7" stroke="#000" stroke-width="1"/>
<line x1="281.81" y1="248.5" x2="281.81" y2="251.7" stroke="#000" stroke-width="1"/>
<line x1="286.08" y1="248.5" x2="286.08" y2="251.7" stroke="#000" stroke-width="1"/>
<line x1="290.35" y1="248.5" x2="290.35" y2="254.0" stroke="#000" stroke-width="1"/>
<line x1="294.62" y1="248.5" x2="294.62" y2="251.7" stroke="#000" stroke-width="1"/>
<text x="204.95" y="260.0" font-size="5.2" font-weight="bold" text-anchor="middle" fill="#1a1a1a">50</text>
<text x="226.29999999999998" y="260.0" font-size="5.2" font-weight="bold" text-anchor="middle" fill="#1a1a1a">100</text>
<text x="247.64999999999998" y="260.0" font-size="5.2" font-weight="bold" text-anchor="middle" fill="#1a1a1a">150</text>
<text x="269.0" y="260.0" font-size="5.2" font-weight="bold" text-anchor="middle" fill="#1a1a1a">200</text>
<text x="290.35" y="260.0" font-size="5.2" font-weight="bold" text-anchor="middle" fill="#1a1a1a">250</text>
<text x="295.8" y="266.4" font-size="5.1" font-weight="bold" text-anchor="end" fill="#1a1a1a">(x 1,000)</text>
<line x1="184.6" y1="210.3" x2="295" y2="210.3" stroke="#000" stroke-width="1.1"/>
<line x1="208.5" y1="150" x2="208.5" y2="248.5" stroke="#000" stroke-width="1.1"/>
<rect x="190.5" y="210.3" width="18.0" height="21.599999999999994" fill="none" stroke="#000" stroke-width="1.5"/>
<path d="M206.1 197.8h1.3v1.3h-1.3zM205.9 201.0h1.3v1.3h-1.3zM202.2 194.9h1.3v1.3h-1.3zM201.9 191.8h1.3v1.3h-1.3zM205.0 208.5h1.3v1.3h-1.3zM202.5 175.3h1.3v1.3h-1.3zM207.4 205.9h1.3v1.3h-1.3zM205.1 187.1h1.3v1.3h-1.3zM204.6 189.3h1.3v1.3h-1.3zM204.9 192.1h1.3v1.3h-1.3zM203.1 186.9h1.3v1.3h-1.3zM204.1 204.4h1.3v1.3h-1.3zM205.8 206.2h1.3v1.3h-1.3zM206.1 171.7h1.3v1.3h-1.3zM203.8 181.4h1.3v1.3h-1.3zM207.6 209.9h1.3v1.3h-1.3zM206.8 183.4h1.3v1.3h-1.3zM204.5 205.0h1.3v1.3h-1.3zM204.7 162.5h1.3v1.3h-1.3zM204.3 202.7h1.3v1.3h-1.3zM205.4 200.3h1.3v1.3h-1.3zM203.2 202.5h1.3v1.3h-1.3zM203.9 198.3h1.3v1.3h-1.3zM205.2 193.9h1.3v1.3h-1.3zM204.2 229.6h1.3v1.3h-1.3zM205.5 214.8h1.3v1.3h-1.3zM205.7 228.7h1.3v1.3h-1.3zM203.6 215.6h1.3v1.3h-1.3zM205.0 217.3h1.3v1.3h-1.3zM204.3 223.7h1.3v1.3h-1.3zM206.5 228.9h1.3v1.3h-1.3zM202.4 227.2h1.3v1.3h-1.3zM206.6 220.4h1.3v1.3h-1.3zM203.4 215.4h1.3v1.3h-1.3zM205.1 221.1h1.3v1.3h-1.3zM207.0 222.3h1.3v1.3h-1.3zM204.0 214.0h1.3v1.3h-1.3zM206.2 212.8h1.3v1.3h-1.3zM205.6 221.6h1.3v1.3h-1.3zM205.1 214.6h1.3v1.3h-1.3zM207.9 212.6h1.3v1.3h-1.3zM203.9 229.6h1.3v1.3h-1.3zM206.4 220.1h1.3v1.3h-1.3zM206.6 227.3h1.3v1.3h-1.3zM207.6 224.6h1.3v1.3h-1.3zM207.4 211.2h1.3v1.3h-1.3zM204.2 230.2h1.3v1.3h-1.3zM199.4 215.5h1.3v1.3h-1.3zM204.8 214.6h1.3v1.3h-1.3zM205.6 219.6h1.3v1.3h-1.3zM202.2 227.1h1.3v1.3h-1.3zM206.8 210.7h1.3v1.3h-1.3zM206.5 215.3h1.3v1.3h-1.3zM205.1 211.4h1.3v1.3h-1.3zM204.4 222.6h1.3v1.3h-1.3zM206.9 222.8h1.3v1.3h-1.3zM208.0 221.0h1.3v1.3h-1.3zM200.8 220.5h1.3v1.3h-1.3zM205.6 214.9h1.3v1.3h-1.3zM204.1 211.5h1.3v1.3h-1.3zM203.1 228.0h1.3v1.3h-1.3zM202.1 230.7h1.3v1.3h-1.3zM206.3 214.8h1.3v1.3h-1.3zM206.7 216.5h1.3v1.3h-1.3zM205.4 226.3h1.3v1.3h-1.3zM204.5 222.5h1.3v1.3h-1.3zM202.0 228.7h1.3v1.3h-1.3zM205.0 229.2h1.3v1.3h-1.3zM205.0 212.2h1.3v1.3h-1.3zM205.6 223.1h1.3v1.3h-1.3zM203.2 229.2h1.3v1.3h-1.3zM202.4 224.5h1.3v1.3h-1.3zM204.5 223.6h1.3v1.3h-1.3zM203.8 229.9h1.3v1.3h-1.3zM206.3 218.0h1.3v1.3h-1.3zM206.1 216.8h1.3v1.3h-1.3zM202.8 213.9h1.3v1.3h-1.3zM206.0 211.8h1.3v1.3h-1.3zM204.7 214.4h1.3v1.3h-1.3zM208.0 219.0h1.3v1.3h-1.3zM208.0 223.3h1.3v1.3h-1.3zM202.1 216.5h1.3v1.3h-1.3zM206.6 210.5h1.3v1.3h-1.3zM204.9 216.8h1.3v1.3h-1.3zM206.6 225.5h1.3v1.3h-1.3zM204.5 212.5h1.3v1.3h-1.3zM208.0 221.0h1.3v1.3h-1.3zM204.7 230.1h1.3v1.3h-1.3zM205.1 219.5h1.3v1.3h-1.3zM202.4 212.4h1.3v1.3h-1.3zM205.0 211.7h1.3v1.3h-1.3zM201.5 217.2h1.3v1.3h-1.3zM205.6 230.6h1.3v1.3h-1.3zM205.3 217.1h1.3v1.3h-1.3zM206.4 222.5h1.3v1.3h-1.3zM207.5 220.9h1.3v1.3h-1.3zM205.5 212.2h1.3v1.3h-1.3z" fill="#111"/>
<path d="M207.7 199.2h1.2v1.2h-1.2zM205.9 204.5h1.2v1.2h-1.2zM207.3 179.6h1.2v1.2h-1.2zM206.6 175.4h1.2v1.2h-1.2zM205.5 207.1h1.2v1.2h-1.2zM205.3 209.9h1.2v1.2h-1.2zM204.7 171.8h1.2v1.2h-1.2zM207.0 198.5h1.2v1.2h-1.2zM204.3 197.1h1.2v1.2h-1.2zM202.2 168.1h1.2v1.2h-1.2zM200.8 171.9h1.2v1.2h-1.2zM204.9 193.9h1.2v1.2h-1.2zM208.0 186.1h1.2v1.2h-1.2zM205.7 199.9h1.2v1.2h-1.2zM203.6 178.2h1.2v1.2h-1.2zM205.5 182.5h1.2v1.2h-1.2zM204.8 206.1h1.2v1.2h-1.2zM201.6 198.0h1.2v1.2h-1.2zM202.8 170.6h1.2v1.2h-1.2zM203.3 185.6h1.2v1.2h-1.2zM203.3 189.1h1.2v1.2h-1.2zM207.6 219.3h1.2v1.2h-1.2zM206.9 213.6h1.2v1.2h-1.2zM202.4 213.5h1.2v1.2h-1.2zM202.4 219.0h1.2v1.2h-1.2zM205.5 227.4h1.2v1.2h-1.2zM203.8 227.6h1.2v1.2h-1.2zM200.5 219.4h1.2v1.2h-1.2zM208.0 215.7h1.2v1.2h-1.2zM203.7 215.9h1.2v1.2h-1.2zM206.1 215.0h1.2v1.2h-1.2zM204.3 216.5h1.2v1.2h-1.2zM204.2 223.0h1.2v1.2h-1.2zM202.9 224.9h1.2v1.2h-1.2zM207.5 222.6h1.2v1.2h-1.2zM202.1 228.5h1.2v1.2h-1.2zM204.8 229.5h1.2v1.2h-1.2zM206.3 219.2h1.2v1.2h-1.2zM204.2 230.6h1.2v1.2h-1.2zM205.7 211.0h1.2v1.2h-1.2zM204.6 213.3h1.2v1.2h-1.2zM199.4 210.3h1.2v1.2h-1.2zM204.3 227.6h1.2v1.2h-1.2zM204.1 212.5h1.2v1.2h-1.2zM202.5 228.5h1.2v1.2h-1.2zM203.7 225.5h1.2v1.2h-1.2zM202.2 222.9h1.2v1.2h-1.2zM203.7 220.5h1.2v1.2h-1.2z" fill="#555"/>
<path d="M202.8 182.4h1.2v1.2h-1.2zM207.4 207.0h1.2v1.2h-1.2zM206.4 201.5h1.2v1.2h-1.2zM206.4 180.1h1.2v1.2h-1.2zM203.9 207.0h1.2v1.2h-1.2zM205.2 203.1h1.2v1.2h-1.2zM205.8 201.7h1.2v1.2h-1.2zM204.8 165.4h1.2v1.2h-1.2zM203.9 180.7h1.2v1.2h-1.2zM203.0 185.1h1.2v1.2h-1.2zM206.1 204.1h1.2v1.2h-1.2zM205.2 202.5h1.2v1.2h-1.2zM205.6 203.5h1.2v1.2h-1.2zM200.9 201.4h1.2v1.2h-1.2zM205.5 168.9h1.2v1.2h-1.2z" fill="#888"/>
<text x="233.5" y="165" font-size="11.3" font-weight="bold" text-anchor="start" fill="#000">Cited2<tspan font-size="7.6" dy="-3" letter-spacing="0.6">Δ/Δ</tspan></text>
<text x="215.8" y="234" font-size="10.6" text-anchor="start" fill="#1a1a1a" stroke="#1a1a1a" stroke-width="0.15" textLength="41" lengthAdjust="spacingAndGlyphs">G0:49.5%</text>
<text x="393.3" y="18.4" font-size="13.5" font-weight="bold" text-anchor="start" fill="#000">LSK gated</text>
<line x1="344.3" y1="22.9" x2="518" y2="22.9" stroke="#000" stroke-width="1.3"/>
<line x1="347" y1="22.7" x2="347" y2="123.2" stroke="#000" stroke-width="1.4"/>
<line x1="347" y1="123.1" x2="519" y2="123.1" stroke="#222" stroke-width="1.0"/>
<line x1="343" y1="126.5" x2="518" y2="126.5" stroke="#000" stroke-width="1.3"/>
<line x1="347" y1="126.5" x2="347" y2="227.5" stroke="#000" stroke-width="1.4"/>
<line x1="346" y1="227.3" x2="514" y2="227.3" stroke="#000" stroke-width="1.3"/>
<line x1="445.6" y1="22.7" x2="445.6" y2="227" stroke="#000" stroke-width="1.3"/>
<line x1="445.6" y1="23.9" x2="490.8" y2="23.9" stroke="#000" stroke-width="1.2"/>
<line x1="445.6" y1="226.6" x2="490.8" y2="226.6" stroke="#000" stroke-width="1.2"/>
<line x1="490.8" y1="22.7" x2="490.8" y2="227" stroke="#000" stroke-width="1.3"/>
<line x1="343.2" y1="123.3" x2="347" y2="123.3" stroke="#000" stroke-width="1"/>
<line x1="344.4" y1="120.074" x2="347" y2="120.074" stroke="#000" stroke-width="1"/>
<line x1="344.4" y1="116.848" x2="347" y2="116.848" stroke="#000" stroke-width="1"/>
<line x1="344.4" y1="113.622" x2="347" y2="113.622" stroke="#000" stroke-width="1"/>
<line x1="344.4" y1="110.396" x2="347" y2="110.396" stroke="#000" stroke-width="1"/>
<line x1="343.2" y1="107.17" x2="347" y2="107.17" stroke="#000" stroke-width="1"/>
<line x1="344.4" y1="103.94399999999999" x2="347" y2="103.94399999999999" stroke="#000" stroke-width="1"/>
<line x1="344.4" y1="100.71799999999999" x2="347" y2="100.71799999999999" stroke="#000" stroke-width="1"/>
<line x1="344.4" y1="97.49199999999999" x2="347" y2="97.49199999999999" stroke="#000" stroke-width="1"/>
<line x1="344.4" y1="94.26599999999999" x2="347" y2="94.26599999999999" stroke="#000" stroke-width="1"/>
<line x1="343.2" y1="91.03999999999999" x2="347" y2="91.03999999999999" stroke="#000" stroke-width="1"/>
<line x1="344.4" y1="87.814" x2="347" y2="87.814" stroke="#000" stroke-width="1"/>
<line x1="344.4" y1="84.588" x2="347" y2="84.588" stroke="#000" stroke-width="1"/>
<line x1="344.4" y1="81.362" x2="347" y2="81.362" stroke="#000" stroke-width="1"/>
<line x1="344.4" y1="78.136" x2="347" y2="78.136" stroke="#000" stroke-width="1"/>
<line x1="343.2" y1="74.91" x2="347" y2="74.91" stroke="#000" stroke-width="1"/>
<line x1="344.4" y1="71.684" x2="347" y2="71.684" stroke="#000" stroke-width="1"/>
<line x1="344.4" y1="68.458" x2="347" y2="68.458" stroke="#000" stroke-width="1"/>
<line x1="344.4" y1="65.232" x2="347" y2="65.232" stroke="#000" stroke-width="1"/>
<line x1="344.4" y1="62.006" x2="347" y2="62.006" stroke="#000" stroke-width="1"/>
<line x1="343.2" y1="58.78" x2="347" y2="58.78" stroke="#000" stroke-width="1"/>
<line x1="344.4" y1="55.554" x2="347" y2="55.554" stroke="#000" stroke-width="1"/>
<line x1="344.4" y1="52.328" x2="347" y2="52.328" stroke="#000" stroke-width="1"/>
<line x1="344.4" y1="49.102000000000004" x2="347" y2="49.102000000000004" stroke="#000" stroke-width="1"/>
<line x1="344.4" y1="45.87599999999999" x2="347" y2="45.87599999999999" stroke="#000" stroke-width="1"/>
<line x1="343.2" y1="42.64999999999999" x2="347" y2="42.64999999999999" stroke="#000" stroke-width="1"/>
<line x1="344.4" y1="39.42399999999999" x2="347" y2="39.42399999999999" stroke="#000" stroke-width="1"/>
<line x1="344.4" y1="36.19799999999999" x2="347" y2="36.19799999999999" stroke="#000" stroke-width="1"/>
<line x1="344.4" y1="32.971999999999994" x2="347" y2="32.971999999999994" stroke="#000" stroke-width="1"/>
<line x1="344.4" y1="29.745999999999995" x2="347" y2="29.745999999999995" stroke="#000" stroke-width="1"/>
<line x1="343.2" y1="26.519999999999996" x2="347" y2="26.519999999999996" stroke="#000" stroke-width="1"/>
<text x="340.3" y="123.3" font-size="4.9" font-weight="bold" text-anchor="middle" fill="#1a1a1a" transform="rotate(-90 340.3 123.3)" dominant-baseline="central">0</text>
<text x="340.3" y="107.17" font-size="4.9" font-weight="bold" text-anchor="middle" fill="#1a1a1a" transform="rotate(-90 340.3 107.17)" dominant-baseline="central">10</text>
<text x="340.3" y="91.03999999999999" font-size="4.9" font-weight="bold" text-anchor="middle" fill="#1a1a1a" transform="rotate(-90 340.3 91.03999999999999)" dominant-baseline="central">20</text>
<text x="340.3" y="74.91" font-size="4.9" font-weight="bold" text-anchor="middle" fill="#1a1a1a" transform="rotate(-90 340.3 74.91)" dominant-baseline="central">30</text>
<text x="340.3" y="58.78" font-size="4.9" font-weight="bold" text-anchor="middle" fill="#1a1a1a" transform="rotate(-90 340.3 58.78)" dominant-baseline="central">40</text>
<text x="340.3" y="42.64999999999999" font-size="4.9" font-weight="bold" text-anchor="middle" fill="#1a1a1a" transform="rotate(-90 340.3 42.64999999999999)" dominant-baseline="central">50</text>
<text x="340.3" y="26.519999999999996" font-size="4.9" font-weight="bold" text-anchor="middle" fill="#1a1a1a" transform="rotate(-90 340.3 26.519999999999996)" dominant-baseline="central">60</text>
<text x="334.2" y="72.5" font-size="7" font-weight="bold" text-anchor="middle" fill="#000" transform="rotate(-90 334.2 72.5)">Count</text>
<line x1="343.2" y1="226.8" x2="347" y2="226.8" stroke="#000" stroke-width="1"/>
<line x1="344.4" y1="222.05" x2="347" y2="222.05" stroke="#000" stroke-width="1"/>
<line x1="344.4" y1="217.3" x2="347" y2="217.3" stroke="#000" stroke-width="1"/>
<line x1="344.4" y1="212.55" x2="347" y2="212.55" stroke="#000" stroke-width="1"/>
<line x1="344.4" y1="207.8" x2="347" y2="207.8" stroke="#000" stroke-width="1"/>
<line x1="343.2" y1="203.05" x2="347" y2="203.05" stroke="#000" stroke-width="1"/>
<line x1="344.4" y1="198.3" x2="347" y2="198.3" stroke="#000" stroke-width="1"/>
<line x1="344.4" y1="193.55" x2="347" y2="193.55" stroke="#000" stroke-width="1"/>
<line x1="344.4" y1="188.8" x2="347" y2="188.8" stroke="#000" stroke-width="1"/>
<line x1="344.4" y1="184.05" x2="347" y2="184.05" stroke="#000" stroke-width="1"/>
<line x1="343.2" y1="179.3" x2="347" y2="179.3" stroke="#000" stroke-width="1"/>
<line x1="344.4" y1="174.55" x2="347" y2="174.55" stroke="#000" stroke-width="1"/>
<line x1="344.4" y1="169.8" x2="347" y2="169.8" stroke="#000" stroke-width="1"/>
<line x1="344.4" y1="165.05" x2="347" y2="165.05" stroke="#000" stroke-width="1"/>
<line x1="344.4" y1="160.3" x2="347" y2="160.3" stroke="#000" stroke-width="1"/>
<line x1="343.2" y1="155.55" x2="347" y2="155.55" stroke="#000" stroke-width="1"/>
<line x1="344.4" y1="150.8" x2="347" y2="150.8" stroke="#000" stroke-width="1"/>
<line x1="344.4" y1="146.05" x2="347" y2="146.05" stroke="#000" stroke-width="1"/>
<line x1="344.4" y1="141.3" x2="347" y2="141.3" stroke="#000" stroke-width="1"/>
<line x1="344.4" y1="136.55" x2="347" y2="136.55" stroke="#000" stroke-width="1"/>
<line x1="343.2" y1="131.8" x2="347" y2="131.8" stroke="#000" stroke-width="1"/>
<line x1="344.4" y1="127.05000000000001" x2="347" y2="127.05000000000001" stroke="#000" stroke-width="1"/>
<text x="340.3" y="226.8" font-size="4.9" font-weight="bold" text-anchor="middle" fill="#1a1a1a" transform="rotate(-90 340.3 226.8)" dominant-baseline="central">0</text>
<text x="340.3" y="203.05" font-size="4.9" font-weight="bold" text-anchor="middle" fill="#1a1a1a" transform="rotate(-90 340.3 203.05)" dominant-baseline="central">5</text>
<text x="340.3" y="179.3" font-size="4.9" font-weight="bold" text-anchor="middle" fill="#1a1a1a" transform="rotate(-90 340.3 179.3)" dominant-baseline="central">10</text>
<text x="340.3" y="155.55" font-size="4.9" font-weight="bold" text-anchor="middle" fill="#1a1a1a" transform="rotate(-90 340.3 155.55)" dominant-baseline="central">15</text>
<text x="340.3" y="131.8" font-size="4.9" font-weight="bold" text-anchor="middle" fill="#1a1a1a" transform="rotate(-90 340.3 131.8)" dominant-baseline="central">20</text>
<text x="334.2" y="176.6" font-size="7" font-weight="bold" text-anchor="middle" fill="#000" transform="rotate(-90 334.2 176.6)">Count</text>
<line x1="348.5861383444643" y1="227.3" x2="348.5861383444643" y2="230.20000000000002" stroke="#000" stroke-width="1"/>
<line x1="354.3957895967502" y1="227.3" x2="354.3957895967502" y2="230.20000000000002" stroke="#000" stroke-width="1"/>
<line x1="358.90210520162486" y1="227.3" x2="358.90210520162486" y2="230.20000000000002" stroke="#000" stroke-width="1"/>
<line x1="362.5840331428394" y1="227.3" x2="362.5840331428394" y2="230.20000000000002" stroke="#000" stroke-width="1"/>
<line x1="365.69705886066293" y1="227.3" x2="365.69705886066293" y2="230.20000000000002" stroke="#000" stroke-width="1"/>
<line x1="368.3936843951254" y1="227.3" x2="368.3936843951254" y2="230.20000000000002" stroke="#000" stroke-width="1"/>
<line x1="370.77227668892857" y1="227.3" x2="370.77227668892857" y2="230.20000000000002" stroke="#000" stroke-width="1"/>
<line x1="372.9" y1="227.3" x2="372.9" y2="232.10000000000002" stroke="#000" stroke-width="1"/>
<line x1="386.8978947983751" y1="227.3" x2="386.8978947983751" y2="230.20000000000002" stroke="#000" stroke-width="1"/>
<line x1="395.0861383444643" y1="227.3" x2="395.0861383444643" y2="230.20000000000002" stroke="#000" stroke-width="1"/>
<line x1="400.8957895967502" y1="227.3" x2="400.8957895967502" y2="230.20000000000002" stroke="#000" stroke-width="1"/>
<line x1="405.40210520162486" y1="227.3" x2="405.40210520162486" y2="230.20000000000002" stroke="#000" stroke-width="1"/>
<line x1="409.0840331428394" y1="227.3" x2="409.0840331428394" y2="230.20000000000002" stroke="#000" stroke-width="1"/>
<line x1="412.19705886066293" y1="227.3" x2="412.19705886066293" y2="230.20000000000002" stroke="#000" stroke-width="1"/>
<line x1="414.8936843951254" y1="227.3" x2="414.8936843951254" y2="230.20000000000002" stroke="#000" stroke-width="1"/>
<line x1="417.27227668892857" y1="227.3" x2="417.27227668892857" y2="230.20000000000002" stroke="#000" stroke-width="1"/>
<line x1="419.4" y1="227.3" x2="419.4" y2="232.10000000000002" stroke="#000" stroke-width="1"/>
<line x1="433.3978947983751" y1="227.3" x2="433.3978947983751" y2="230.20000000000002" stroke="#000" stroke-width="1"/>
<line x1="441.5861383444643" y1="227.3" x2="441.5861383444643" y2="230.20000000000002" stroke="#000" stroke-width="1"/>
<line x1="447.3957895967502" y1="227.3" x2="447.3957895967502" y2="230.20000000000002" stroke="#000" stroke-width="1"/>
<line x1="451.90210520162486" y1="227.3" x2="451.90210520162486" y2="230.20000000000002" stroke="#000" stroke-width="1"/>
<line x1="455.5840331428394" y1="227.3" x2="455.5840331428394" y2="230.20000000000002" stroke="#000" stroke-width="1"/>
<line x1="458.69705886066293" y1="227.3" x2="458.69705886066293" y2="230.20000000000002" stroke="#000" stroke-width="1"/>
<line x1="461.3936843951254" y1="227.3" x2="461.3936843951254" y2="230.20000000000002" stroke="#000" stroke-width="1"/>
<line x1="463.77227668892857" y1="227.3" x2="463.77227668892857" y2="230.20000000000002" stroke="#000" stroke-width="1"/>
<line x1="465.9" y1="227.3" x2="465.9" y2="232.10000000000002" stroke="#000" stroke-width="1"/>
<line x1="479.8978947983751" y1="227.3" x2="479.8978947983751" y2="230.20000000000002" stroke="#000" stroke-width="1"/>
<line x1="488.0861383444643" y1="227.3" x2="488.0861383444643" y2="230.20000000000002" stroke="#000" stroke-width="1"/>
<line x1="493.8957895967502" y1="227.3" x2="493.8957895967502" y2="230.20000000000002" stroke="#000" stroke-width="1"/>
<line x1="498.40210520162486" y1="227.3" x2="498.40210520162486" y2="230.20000000000002" stroke="#000" stroke-width="1"/>
<line x1="502.0840331428394" y1="227.3" x2="502.0840331428394" y2="230.20000000000002" stroke="#000" stroke-width="1"/>
<line x1="505.19705886066293" y1="227.3" x2="505.19705886066293" y2="230.20000000000002" stroke="#000" stroke-width="1"/>
<line x1="507.8936843951254" y1="227.3" x2="507.8936843951254" y2="230.20000000000002" stroke="#000" stroke-width="1"/>
<line x1="510.27227668892857" y1="227.3" x2="510.27227668892857" y2="230.20000000000002" stroke="#000" stroke-width="1"/>
<line x1="512.4" y1="227.3" x2="512.4" y2="232.10000000000002" stroke="#000" stroke-width="1"/>
<text x="371.09999999999997" y="238.4" font-size="5.3" font-weight="bold" text-anchor="middle" fill="#1a1a1a">10<tspan font-size="3.8" dy="-2.6">2</tspan></text>
<text x="417.59999999999997" y="238.4" font-size="5.3" font-weight="bold" text-anchor="middle" fill="#1a1a1a">10<tspan font-size="3.8" dy="-2.6">3</tspan></text>
<text x="464.09999999999997" y="238.4" font-size="5.3" font-weight="bold" text-anchor="middle" fill="#1a1a1a">10<tspan font-size="3.8" dy="-2.6">4</tspan></text>
<text x="510.59999999999997" y="238.4" font-size="5.3" font-weight="bold" text-anchor="middle" fill="#1a1a1a">10<tspan font-size="3.8" dy="-2.6">5</tspan></text>
<text x="372.2" y="251.6" font-size="13.6" font-weight="bold" text-anchor="start" fill="#000">BrdU</text>
<line x1="411.5" y1="246.9" x2="503" y2="246.9" stroke="#000" stroke-width="1.9"/>
<path d="M507.8 246.9 L498 241.9 L502.2 246.9 L498 251.9 Z" fill="#000" stroke="#000" stroke-width="0.6" stroke-linejoin="round"/>
<polygon points="409,123.3 409.7,118.1 411,113.4 412.1,108.6 413.7,102.3 414.8,96 416,86.5 417.3,70.8 418.9,55 419.7,50 420.6,40 421.6,30 422,23 423,24 424.5,23 425.3,23 426.3,30 427,40 427.7,50 427.9,55 428.7,70.8 430.2,86.5 431,96 431.8,102.3 433,108.6 434.2,113.4 435.5,116.5 437,118.5 439,118 440.5,117.2 442,119 444,118.3 446.5,117.3 448,118.2 449.7,117.1 451.9,116.8 454.1,117.9 456.2,114.6 458.4,111.4 460,107 461.1,101.6 462.2,97.3 463.8,95.7 465.4,96.2 467.1,92.8 468.4,92.1 469.8,93.5 471.4,97.3 472.5,101.6 473.5,107 475.2,109.2 476.8,112.5 477.9,116.8 479,121.1 480,123.3" fill="#000"/>
<polygon points="406.1,226.8 407.4,218.6 408.8,217.3 410.1,221.4 411.5,213.2 412.8,209.2 414.2,202.4 415.5,198.4 417.6,197.7 418.9,191.6 420,184.2 421,184.9 421.6,190.3 423,193.6 424.3,198.4 425.7,203.8 427,203.1 428.4,205.1 429.7,207.8 431.8,210.5 433.1,217.3 433.8,221.4 434.9,224 435.8,220 437.2,217.3 439.2,218.6 440.3,222.7 441.2,224 443,222 444.7,217.4 447.1,208 448.8,202 450.7,206.8 453,198.5 455.4,191.4 457.8,177.1 460.1,160.5 462.5,148.7 463.7,141.6 464.9,148.7 466.5,144 468,134.5 468.9,128.6 470.3,132.1 471.5,127.8 473.2,139.2 474.4,155.8 475.5,172.4 476.7,186.6 477.9,200.8 479.8,215 481.5,224.5 482.2,226.8" fill="#000"/>
<text x="368" y="41.3" font-size="11" font-weight="bold" text-anchor="start" fill="#000">WT</text>
<text x="365.8" y="56.3" font-size="11.5" text-anchor="start" fill="#1a1a1a" stroke="#1a1a1a" stroke-width="0.18">27.7%</text>
<text x="361.4" y="143.3" font-size="11.1" font-weight="bold" text-anchor="start" fill="#000">Cited2<tspan font-size="7.2" dy="-2.2" letter-spacing="0.6">Δ/Δ</tspan></text>
<text x="366.7" y="157.2" font-size="11.5" text-anchor="start" fill="#1a1a1a" stroke="#1a1a1a" stroke-width="0.18">74.6%</text>
<line x1="68" y1="303.5" x2="68" y2="425.4" stroke="#8a8a8a" stroke-width="1.2"/>
<line x1="64" y1="425.4" x2="155" y2="425.4" stroke="#8a8a8a" stroke-width="1.2"/>
<line x1="64" y1="425.4" x2="68" y2="425.4" stroke="#8a8a8a" stroke-width="1.2"/>
<text x="58.2" y="429.0" font-size="12.6" text-anchor="end" fill="#1a1a1a" stroke="#1a1a1a" stroke-width="0.2" textLength="6.2" lengthAdjust="spacingAndGlyphs">0</text>
<line x1="64" y1="395.09999999999997" x2="68" y2="395.09999999999997" stroke="#8a8a8a" stroke-width="1.2"/>
<text x="58.2" y="398.7" font-size="12.6" text-anchor="end" fill="#1a1a1a" stroke="#1a1a1a" stroke-width="0.2" textLength="12.4" lengthAdjust="spacingAndGlyphs">10</text>
<line x1="64" y1="364.79999999999995" x2="68" y2="364.79999999999995" stroke="#8a8a8a" stroke-width="1.2"/>
<text x="58.2" y="368.4" font-size="12.6" text-anchor="end" fill="#1a1a1a" stroke="#1a1a1a" stroke-width="0.2" textLength="12.4" lengthAdjust="spacingAndGlyphs">20</text>
<line x1="64" y1="334.5" x2="68" y2="334.5" stroke="#8a8a8a" stroke-width="1.2"/>
<text x="58.2" y="338.1" font-size="12.6" text-anchor="end" fill="#1a1a1a" stroke="#1a1a1a" stroke-width="0.2" textLength="12.4" lengthAdjust="spacingAndGlyphs">30</text>
<line x1="64" y1="304.2" x2="68" y2="304.2" stroke="#8a8a8a" stroke-width="1.2"/>
<text x="58.2" y="307.8" font-size="12.6" text-anchor="end" fill="#1a1a1a" stroke="#1a1a1a" stroke-width="0.2" textLength="12.4" lengthAdjust="spacingAndGlyphs">40</text>
<path d="M85.8 321.1 L90.0 328.8 L81.5 328.8 Z" fill="#000"/>
<path d="M89.9 319.0 L94.2 326.7 L85.7 326.7 Z" fill="#000"/>
<path d="M92.1 325.8 L96.3 333.5 L87.8 333.5 Z" fill="#000"/>
<path d="M89.4 335.3 L93.7 343.0 L85.2 343.0 Z" fill="#000"/>
<path d="M93.5 338.9 L97.8 346.6 L89.2 346.6 Z" fill="#000"/>
<path d="M83.6 345.6 L87.8 353.3 L79.3 353.3 Z" fill="#000"/>
<path d="M93.9 347.0 L98.2 354.7 L89.7 354.7 Z" fill="#000"/>
<path d="M131.0 375.4 L135.2 383.1 L126.8 383.1 Z" fill="#000"/>
<path d="M133.0 379.9 L137.2 387.6 L128.8 387.6 Z" fill="#000"/>
<path d="M130.8 390.3 L135.1 398.0 L126.6 398.0 Z" fill="#000"/>
<path d="M135.3 388.5 L139.6 396.2 L131.1 396.2 Z" fill="#000"/>
<path d="M128.5 396.0 L132.8 403.7 L124.2 403.7 Z" fill="#000"/>
<path d="M137.0 394.3 L141.2 402.0 L132.8 402.0 Z" fill="#000"/>
<path d="M133.0 402.4 L137.2 410.1 L128.8 410.1 Z" fill="#000"/>
<text x="78" y="440.5" font-size="11" font-weight="bold" text-anchor="start" fill="#000">WT</text>
<text x="105" y="440.5" font-size="11" font-weight="bold" text-anchor="start" fill="#000">Cited2<tspan font-size="6.6" dy="-2.7" letter-spacing="0.6">Δ/Δ</tspan></text>
<text x="103" y="312.8" font-size="10.2" text-anchor="start" fill="#111" stroke="#111" stroke-width="0.2" textLength="29.8" lengthAdjust="spacingAndGlyphs"><tspan font-style="italic">P</tspan>&lt;0.01</text>
<text x="39.9" y="419.6" font-size="11.1" font-weight="bold" text-anchor="start" fill="#000" transform="rotate(-90 39.9 419.6)">LSK cells&#160; in G0 (%)</text>
<line x1="240.5" y1="309" x2="240.5" y2="425.7" stroke="#8a8a8a" stroke-width="1.2"/>
<line x1="236.5" y1="425.7" x2="332" y2="425.7" stroke="#8a8a8a" stroke-width="1.2"/>
<line x1="236.5" y1="425.7" x2="240.5" y2="425.7" stroke="#8a8a8a" stroke-width="1.2"/>
<text x="230.7" y="429.3" font-size="12.6" text-anchor="end" fill="#1a1a1a" stroke="#1a1a1a" stroke-width="0.2" textLength="12.4" lengthAdjust="spacingAndGlyphs">20</text>
<line x1="236.5" y1="387.09999999999997" x2="240.5" y2="387.09999999999997" stroke="#8a8a8a" stroke-width="1.2"/>
<text x="230.7" y="390.7" font-size="12.6" text-anchor="end" fill="#1a1a1a" stroke="#1a1a1a" stroke-width="0.2" textLength="12.4" lengthAdjust="spacingAndGlyphs">40</text>
<line x1="236.5" y1="348.5" x2="240.5" y2="348.5" stroke="#8a8a8a" stroke-width="1.2"/>
<text x="230.7" y="352.1" font-size="12.6" text-anchor="end" fill="#1a1a1a" stroke="#1a1a1a" stroke-width="0.2" textLength="12.4" lengthAdjust="spacingAndGlyphs">60</text>
<line x1="236.5" y1="309.9" x2="240.5" y2="309.9" stroke="#8a8a8a" stroke-width="1.2"/>
<text x="230.7" y="313.5" font-size="12.6" text-anchor="end" fill="#1a1a1a" stroke="#1a1a1a" stroke-width="0.2" textLength="12.4" lengthAdjust="spacingAndGlyphs">80</text>
<path d="M265.3 310.7 L270.1 319.6 L260.6 319.6 Z" fill="#000"/>
<path d="M258.6 318.4 L263.4 327.3 L253.9 327.3 Z" fill="#000"/>
<path d="M268.7 322.2 L273.4 331.1 L263.9 331.1 Z" fill="#000"/>
<path d="M263.4 326.0 L268.1 334.9 L258.6 334.9 Z" fill="#000"/>
<path d="M309.3 351.8 L314.1 360.7 L304.6 360.7 Z" fill="#000"/>
<path d="M313.7 360.8 L318.4 369.7 L308.9 369.7 Z" fill="#000"/>
<path d="M305.0 366.6 L309.8 375.5 L300.2 375.5 Z" fill="#000"/>
<path d="M309.3 376.7 L314.1 385.6 L304.6 385.6 Z" fill="#000"/>
<text x="255" y="440" font-size="11" font-weight="bold" text-anchor="start" fill="#000">WT</text>
<text x="281" y="440" font-size="11" font-weight="bold" text-anchor="start" fill="#000">Cited2<tspan font-size="6.6" dy="-2.7" letter-spacing="0.6">Δ/Δ</tspan></text>
<text x="282" y="313" font-size="10.2" text-anchor="start" fill="#111" stroke="#111" stroke-width="0.2" textLength="29.8" lengthAdjust="spacingAndGlyphs"><tspan font-style="italic">P</tspan>&lt;0.01</text>
<text x="200" y="362.5" font-size="11.3" font-weight="bold" text-anchor="middle" fill="#000" transform="rotate(-90 200 362.5)">CD34-LSK cells in</text>
<text x="215" y="364" font-size="11.9" font-weight="bold" text-anchor="middle" fill="#000" transform="rotate(-90 215 364)">G0 (%)</text>
<line x1="404.2" y1="309" x2="404.2" y2="426.3" stroke="#8a8a8a" stroke-width="1.2"/>
<line x1="400.2" y1="426.3" x2="495" y2="426.3" stroke="#8a8a8a" stroke-width="1.2"/>
<line x1="400.2" y1="426.3" x2="404.2" y2="426.3" stroke="#8a8a8a" stroke-width="1.2"/>
<text x="394.2" y="429.90000000000003" font-size="12.6" text-anchor="end" fill="#1a1a1a" stroke="#1a1a1a" stroke-width="0.2" textLength="6.2" lengthAdjust="spacingAndGlyphs">0</text>
<line x1="400.2" y1="402.84000000000003" x2="404.2" y2="402.84000000000003" stroke="#8a8a8a" stroke-width="1.2"/>
<text x="394.2" y="406.44000000000005" font-size="12.6" text-anchor="end" fill="#1a1a1a" stroke="#1a1a1a" stroke-width="0.2" textLength="12.4" lengthAdjust="spacingAndGlyphs">20</text>
<line x1="400.2" y1="379.38" x2="404.2" y2="379.38" stroke="#8a8a8a" stroke-width="1.2"/>
<text x="394.2" y="382.98" font-size="12.6" text-anchor="end" fill="#1a1a1a" stroke="#1a1a1a" stroke-width="0.2" textLength="12.4" lengthAdjust="spacingAndGlyphs">40</text>
<line x1="400.2" y1="355.92" x2="404.2" y2="355.92" stroke="#8a8a8a" stroke-width="1.2"/>
<text x="394.2" y="359.52000000000004" font-size="12.6" text-anchor="end" fill="#1a1a1a" stroke="#1a1a1a" stroke-width="0.2" textLength="12.4" lengthAdjust="spacingAndGlyphs">60</text>
<line x1="400.2" y1="332.46000000000004" x2="404.2" y2="332.46000000000004" stroke="#8a8a8a" stroke-width="1.2"/>
<text x="394.2" y="336.06000000000006" font-size="12.6" text-anchor="end" fill="#1a1a1a" stroke="#1a1a1a" stroke-width="0.2" textLength="12.4" lengthAdjust="spacingAndGlyphs">80</text>
<line x1="400.2" y1="309.0" x2="404.2" y2="309.0" stroke="#8a8a8a" stroke-width="1.2"/>
<text x="394.2" y="312.6" font-size="12.6" text-anchor="end" fill="#1a1a1a" stroke="#1a1a1a" stroke-width="0.2" textLength="18.6" lengthAdjust="spacingAndGlyphs">100</text>
<path d="M423.1 382.9 L427.4 390.6 L418.9 390.6 Z" fill="#000"/>
<path d="M429.4 384.0 L433.6 391.7 L425.1 391.7 Z" fill="#000"/>
<path d="M423.1 390.8 L427.4 398.5 L418.9 398.5 Z" fill="#000"/>
<path d="M430.7 392.1 L434.9 399.8 L426.4 399.8 Z" fill="#000"/>
<path d="M425.1 396.6 L429.4 404.3 L420.9 404.3 Z" fill="#000"/>
<path d="M428.5 396.2 L432.8 403.9 L424.2 403.9 Z" fill="#000"/>
<path d="M474.8 335.3 L479.1 343.0 L470.6 343.0 Z" fill="#000"/>
<path d="M470.7 339.4 L474.9 347.1 L466.4 347.1 Z" fill="#000"/>
<path d="M468.0 346.1 L472.2 353.8 L463.8 353.8 Z" fill="#000"/>
<path d="M478.8 347.5 L483.1 355.2 L474.6 355.2 Z" fill="#000"/>
<path d="M472.5 348.8 L476.8 356.5 L468.2 356.5 Z" fill="#000"/>
<path d="M476.0 349.3 L480.2 357.0 L471.8 357.0 Z" fill="#000"/>
<text x="420.2" y="439.6" font-size="11" font-weight="bold" text-anchor="start" fill="#000">WT</text>
<text x="450.3" y="439.6" font-size="11" font-weight="bold" text-anchor="start" fill="#000">Cited2<tspan font-size="6.6" dy="-2.7" letter-spacing="0.6">Δ/Δ</tspan></text>
<text x="437.2" y="313.75" font-size="10.2" text-anchor="start" fill="#111" stroke="#111" stroke-width="0.2" textLength="29.8" lengthAdjust="spacingAndGlyphs"><tspan font-style="italic">P</tspan>&lt;0.01</text>
<text x="372.3" y="428.2" font-size="11.3" font-weight="bold" text-anchor="start" fill="#000" transform="rotate(-90 372.3 428.2)">BrdU positive cells (%)</text>
</svg>
</body></html>
